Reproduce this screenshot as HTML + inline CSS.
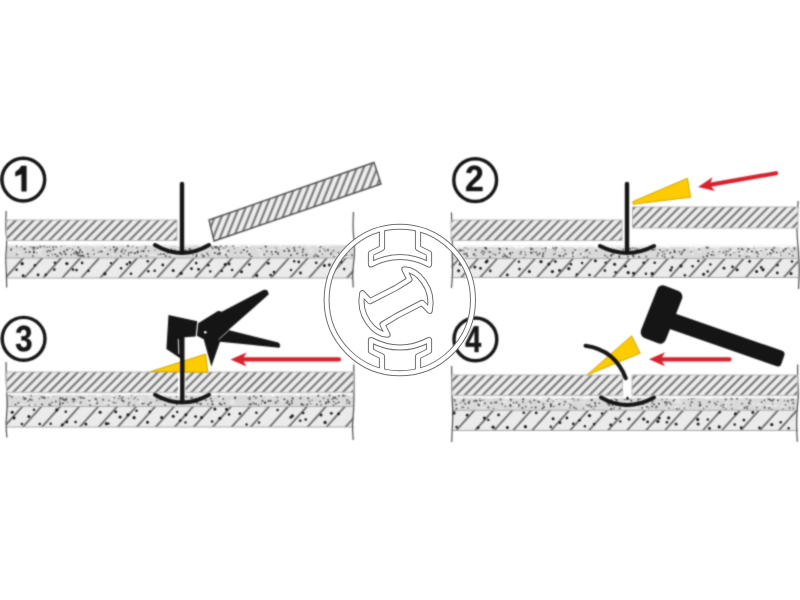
<!DOCTYPE html><html><head><meta charset="utf-8"><style>html,body{margin:0;padding:0;background:#fff;width:800px;height:600px;overflow:hidden;position:relative}svg{display:block;position:absolute;left:0;top:0}#wm{filter:blur(0.2px)}</style></head><body>
<svg id="base" width="800" height="600" viewBox="0 0 800 600">
<defs><filter id="soft" filterUnits="userSpaceOnUse" x="0" y="0" width="800" height="600" color-interpolation-filters="sRGB"><feConvolveMatrix order="5" kernelMatrix="0.00009 0.00198 0.00548 0.00198 0.00009 0.00198 0.04220 0.11707 0.04220 0.00198 0.00548 0.11707 0.32480 0.11707 0.00548 0.00198 0.04220 0.11707 0.04220 0.00198 0.00009 0.00198 0.00548 0.00198 0.00009" edgeMode="duplicate"/></filter></defs><g filter="url(#soft)">
<defs>
<pattern id="th" patternUnits="userSpaceOnUse" width="6.3" height="20" patternTransform="rotate(45)"><rect width="6.3" height="20" fill="#ededed"/><rect x="2.3" width="1.75" height="20" fill="#5e5e5e"/></pattern><pattern id="th2" patternUnits="userSpaceOnUse" width="6.3" height="20" patternTransform="rotate(22)"><rect width="6.3" height="20" fill="#eeeeee"/><rect x="2.3" width="1.75" height="20" fill="#5e5e5e"/></pattern>
<pattern id="ch" patternUnits="userSpaceOnUse" width="14.1" height="20" patternTransform="rotate(42)"><rect width="14.1" height="20" fill="#ebebeb"/><rect x="6" width="1.35" height="20" fill="#404040"/></pattern>
</defs>
<rect width="800" height="600" fill="#fff"/>
<rect x="6.5" y="244" width="347" height="14" fill="#d9d9d9"/>
<rect x="6.5" y="244" width="347" height="1.6" fill="#f6f6f6"/>
<rect x="161.7" y="251.2" width="6.6" height="1.9" fill="#e6e6e6"/>
<rect x="180.7" y="251.5" width="2.9" height="2" fill="#e6e6e6"/>
<rect x="222.5" y="253.7" width="2.5" height="1.6" fill="#e6e6e6"/>
<rect x="37.6" y="253.9" width="5.5" height="1.1" fill="#e6e6e6"/>
<rect x="343.4" y="255.6" width="5.3" height="2.2" fill="#e6e6e6"/>
<rect x="60.5" y="245.2" width="4.6" height="1.1" fill="#e6e6e6"/>
<rect x="71.7" y="247.7" width="2.2" height="1.9" fill="#e6e6e6"/>
<rect x="157.6" y="254.3" width="4.6" height="2.3" fill="#e6e6e6"/>
<rect x="177.9" y="252.3" width="4.3" height="1.6" fill="#e6e6e6"/>
<rect x="348.7" y="256" width="6.2" height="2.4" fill="#e6e6e6"/>
<rect x="114.6" y="247.5" width="3.4" height="1.1" fill="#e6e6e6"/>
<rect x="269.3" y="249.4" width="6.2" height="1.8" fill="#e6e6e6"/>
<rect x="335.1" y="254.3" width="2" height="1.4" fill="#e6e6e6"/>
<rect x="318.7" y="250.2" width="6.9" height="1.8" fill="#e6e6e6"/>
<rect x="31.6" y="251.9" width="5.9" height="1.5" fill="#e6e6e6"/>
<rect x="36.4" y="248.7" width="6.8" height="2.5" fill="#e6e6e6"/>
<rect x="47" y="247.7" width="2.5" height="1.1" fill="#e6e6e6"/>
<rect x="279.9" y="247" width="4.8" height="1.9" fill="#e6e6e6"/>
<rect x="71.9" y="253.1" width="2.7" height="2.3" fill="#e6e6e6"/>
<rect x="46.5" y="249.6" width="3.1" height="1.5" fill="#e6e6e6"/>
<rect x="339.5" y="253.8" width="3.5" height="2.8" fill="#e6e6e6"/>
<rect x="78.8" y="249.3" width="6.3" height="2.3" fill="#e6e6e6"/>
<rect x="40.9" y="255.9" width="3.1" height="1.5" fill="#e6e6e6"/>
<rect x="271.5" y="248.6" width="3.5" height="1.1" fill="#e6e6e6"/>
<rect x="37.4" y="251.4" width="3.2" height="2.2" fill="#e6e6e6"/>
<rect x="134" y="250" width="6.8" height="2" fill="#e6e6e6"/>
<rect x="203.6" y="254.5" width="2.9" height="1.3" fill="#e6e6e6"/>
<rect x="318.1" y="254" width="3.2" height="1.4" fill="#e6e6e6"/>
<rect x="260.1" y="255.3" width="3" height="2.9" fill="#e6e6e6"/>
<rect x="309.1" y="251.6" width="4.1" height="1.2" fill="#e6e6e6"/>
<rect x="19.8" y="255.6" width="3.2" height="2.4" fill="#e6e6e6"/>
<rect x="94.6" y="254.1" width="5" height="1.6" fill="#e6e6e6"/>
<rect x="66.7" y="252.9" width="2.3" height="1.5" fill="#e6e6e6"/>
<rect x="198.4" y="254.4" width="5.1" height="1.6" fill="#e6e6e6"/>
<rect x="321.2" y="247.2" width="2.1" height="1.5" fill="#e6e6e6"/>
<rect x="159.4" y="245.7" width="2.9" height="1.7" fill="#e6e6e6"/>
<rect x="202.8" y="246.4" width="3.8" height="2.8" fill="#e6e6e6"/>
<rect x="342.8" y="252.2" width="5.5" height="2.2" fill="#e6e6e6"/>
<rect x="54.6" y="245.4" width="2.1" height="2.8" fill="#e6e6e6"/>
<rect x="246.9" y="255.6" width="2.1" height="2.3" fill="#e6e6e6"/>
<rect x="171.9" y="253" width="3.6" height="3" fill="#e6e6e6"/>
<rect x="32.3" y="251" width="5.7" height="2.8" fill="#e6e6e6"/>
<rect x="259.3" y="252.7" width="6" height="2.8" fill="#e6e6e6"/>
<rect x="127.2" y="252.5" width="6.5" height="2.7" fill="#e6e6e6"/>
<rect x="149.6" y="253.7" width="6.3" height="2.1" fill="#e6e6e6"/>
<rect x="220.9" y="249.2" width="4.9" height="2.2" fill="#e6e6e6"/>
<rect x="34" y="252" width="7" height="2.8" fill="#e6e6e6"/>
<rect x="256.3" y="249.3" width="5.7" height="2.2" fill="#e6e6e6"/>
<rect x="157.6" y="254.2" width="2.4" height="2.5" fill="#e6e6e6"/>
<rect x="16.7" y="251.6" width="4.4" height="1.5" fill="#e6e6e6"/>
<rect x="246" y="250.5" width="5.1" height="2.8" fill="#e6e6e6"/>
<rect x="94.2" y="245.1" width="3.5" height="2.4" fill="#e6e6e6"/>
<rect x="76" y="246.9" width="6.5" height="2.3" fill="#e6e6e6"/>
<rect x="158.1" y="254.8" width="3.6" height="2.3" fill="#e6e6e6"/>
<rect x="74.6" y="249.7" width="6" height="2.8" fill="#e6e6e6"/>
<rect x="308.4" y="249.2" width="4.9" height="1.6" fill="#e6e6e6"/>
<rect x="53.2" y="250.5" width="6.2" height="2.7" fill="#e6e6e6"/>
<rect x="250.4" y="255.5" width="3.4" height="1.3" fill="#e6e6e6"/>
<rect x="161.1" y="248" width="3.1" height="1.8" fill="#e6e6e6"/>
<rect x="221.1" y="250.4" width="3.6" height="2.7" fill="#e6e6e6"/>
<rect x="343.3" y="250" width="2.4" height="1.1" fill="#e6e6e6"/>
<rect x="305.9" y="245.5" width="5.5" height="2.1" fill="#e6e6e6"/>
<rect x="112.5" y="253.7" width="2.1" height="1.3" fill="#e6e6e6"/>
<rect x="162.5" y="245.3" width="6.1" height="1.5" fill="#e6e6e6"/>
<rect x="54.8" y="245.5" width="5.1" height="1.9" fill="#e6e6e6"/>
<rect x="222.6" y="252.2" width="6" height="2.9" fill="#e6e6e6"/>
<rect x="241.3" y="247.2" width="4.4" height="1.4" fill="#e6e6e6"/>
<rect x="10.2" y="250.2" width="5.6" height="1.4" fill="#e6e6e6"/>
<rect x="99.9" y="248.8" width="5.5" height="2" fill="#e6e6e6"/>
<circle cx="219.5" cy="254.3" r="0.9" fill="#707070"/>
<circle cx="320.2" cy="247" r="1.1" fill="#707070"/>
<circle cx="141.4" cy="251" r="0.8" fill="#3a3a3a"/>
<circle cx="137.5" cy="252.3" r="1.1" fill="#505050"/>
<circle cx="167.5" cy="253.2" r="0.8" fill="#707070"/>
<circle cx="306.3" cy="254.8" r="1.1" fill="#3a3a3a"/>
<circle cx="81.1" cy="255.9" r="1.1" fill="#505050"/>
<circle cx="192.8" cy="254.7" r="0.8" fill="#707070"/>
<circle cx="302.7" cy="249.8" r="0.7" fill="#5a5a5a"/>
<circle cx="125.5" cy="250.6" r="0.8" fill="#3a3a3a"/>
<circle cx="82.8" cy="255.5" r="0.9" fill="#3a3a3a"/>
<circle cx="67.1" cy="249.7" r="1" fill="#454545"/>
<circle cx="169.8" cy="257" r="1.1" fill="#666"/>
<circle cx="297.3" cy="253.6" r="1.1" fill="#5a5a5a"/>
<circle cx="207.2" cy="253.6" r="1" fill="#5a5a5a"/>
<circle cx="189.2" cy="249.2" r="1" fill="#707070"/>
<circle cx="64.2" cy="251.7" r="1.1" fill="#505050"/>
<circle cx="115" cy="250.2" r="1" fill="#666"/>
<circle cx="79.3" cy="255.4" r="1.1" fill="#666"/>
<circle cx="101.7" cy="251.5" r="0.9" fill="#3a3a3a"/>
<circle cx="181.1" cy="252.7" r="0.7" fill="#3a3a3a"/>
<circle cx="185.5" cy="250.4" r="1" fill="#666"/>
<circle cx="49.6" cy="247" r="0.8" fill="#666"/>
<circle cx="165.8" cy="256.1" r="1" fill="#5a5a5a"/>
<circle cx="100.4" cy="251.2" r="0.8" fill="#5a5a5a"/>
<circle cx="318.3" cy="256.3" r="1.1" fill="#666"/>
<circle cx="116.9" cy="248.1" r="0.9" fill="#505050"/>
<circle cx="52.2" cy="254.6" r="0.7" fill="#454545"/>
<circle cx="61.2" cy="246.1" r="0.8" fill="#707070"/>
<circle cx="130.1" cy="252.8" r="0.7" fill="#707070"/>
<circle cx="208.4" cy="255.4" r="0.9" fill="#707070"/>
<circle cx="75.7" cy="251.8" r="0.9" fill="#5a5a5a"/>
<circle cx="225.9" cy="255.1" r="0.9" fill="#666"/>
<circle cx="78" cy="252.9" r="1" fill="#666"/>
<circle cx="82.1" cy="252" r="0.9" fill="#454545"/>
<circle cx="87.8" cy="254.1" r="1" fill="#454545"/>
<circle cx="116.5" cy="249.5" r="1.1" fill="#454545"/>
<circle cx="276" cy="248.1" r="0.7" fill="#454545"/>
<circle cx="53.2" cy="247" r="0.9" fill="#5a5a5a"/>
<circle cx="294.6" cy="250.6" r="1" fill="#454545"/>
<circle cx="76.7" cy="252.9" r="1" fill="#3a3a3a"/>
<circle cx="76.8" cy="253.5" r="1.1" fill="#505050"/>
<circle cx="47.3" cy="251.6" r="1" fill="#666"/>
<circle cx="352" cy="255.2" r="1" fill="#5a5a5a"/>
<circle cx="44.1" cy="246.4" r="0.9" fill="#666"/>
<circle cx="319.8" cy="251.3" r="0.8" fill="#3a3a3a"/>
<circle cx="77.9" cy="255.2" r="1.1" fill="#707070"/>
<circle cx="40.4" cy="246.7" r="1.1" fill="#5a5a5a"/>
<circle cx="34.3" cy="247.1" r="0.9" fill="#5a5a5a"/>
<circle cx="185.3" cy="250.7" r="0.9" fill="#3a3a3a"/>
<circle cx="226.2" cy="246.4" r="0.8" fill="#5a5a5a"/>
<circle cx="164.1" cy="254.1" r="0.9" fill="#454545"/>
<circle cx="216.2" cy="247" r="1" fill="#505050"/>
<circle cx="315.6" cy="254.8" r="1" fill="#707070"/>
<circle cx="331.7" cy="252.3" r="0.8" fill="#666"/>
<circle cx="346.5" cy="254.9" r="0.8" fill="#3a3a3a"/>
<circle cx="264.3" cy="254.6" r="1" fill="#5a5a5a"/>
<circle cx="53.5" cy="249.6" r="0.9" fill="#505050"/>
<circle cx="272.2" cy="254.4" r="0.9" fill="#707070"/>
<circle cx="71.3" cy="254.8" r="0.8" fill="#3a3a3a"/>
<circle cx="11.2" cy="249.9" r="1" fill="#666"/>
<circle cx="24.6" cy="249" r="1.1" fill="#505050"/>
<circle cx="124" cy="253.3" r="0.9" fill="#666"/>
<circle cx="34" cy="251.7" r="0.9" fill="#454545"/>
<circle cx="249.4" cy="254.4" r="1.1" fill="#3a3a3a"/>
<circle cx="47.1" cy="247.2" r="0.8" fill="#5a5a5a"/>
<circle cx="146" cy="246.6" r="0.8" fill="#5a5a5a"/>
<circle cx="11.2" cy="248.8" r="0.8" fill="#505050"/>
<circle cx="197.3" cy="251.6" r="1.1" fill="#666"/>
<circle cx="299.5" cy="247.1" r="0.9" fill="#707070"/>
<circle cx="33.8" cy="252.6" r="1" fill="#3a3a3a"/>
<circle cx="140.8" cy="256.3" r="0.9" fill="#454545"/>
<circle cx="302.7" cy="252" r="0.9" fill="#5a5a5a"/>
<circle cx="333.6" cy="250.6" r="0.9" fill="#666"/>
<circle cx="115.3" cy="251.8" r="0.9" fill="#505050"/>
<circle cx="200.9" cy="249.1" r="1" fill="#505050"/>
<circle cx="16.8" cy="254.5" r="0.9" fill="#707070"/>
<circle cx="61.5" cy="254.3" r="0.9" fill="#505050"/>
<circle cx="265.7" cy="246.6" r="1.1" fill="#505050"/>
<circle cx="32.9" cy="256" r="0.9" fill="#5a5a5a"/>
<circle cx="94.1" cy="254.3" r="0.7" fill="#3a3a3a"/>
<circle cx="330.9" cy="254" r="0.9" fill="#454545"/>
<circle cx="215.8" cy="247.3" r="0.9" fill="#5a5a5a"/>
<circle cx="48.2" cy="255.5" r="0.8" fill="#454545"/>
<circle cx="50.4" cy="250.9" r="1" fill="#5a5a5a"/>
<circle cx="214.9" cy="253" r="1" fill="#505050"/>
<circle cx="275.9" cy="251.8" r="1.1" fill="#505050"/>
<circle cx="260.8" cy="248.6" r="0.7" fill="#505050"/>
<circle cx="278.1" cy="252.9" r="0.8" fill="#505050"/>
<circle cx="217.9" cy="254" r="1" fill="#454545"/>
<circle cx="225.9" cy="254.3" r="0.8" fill="#454545"/>
<circle cx="180.7" cy="253.2" r="0.8" fill="#707070"/>
<circle cx="21.1" cy="246.7" r="0.8" fill="#5a5a5a"/>
<circle cx="16.8" cy="246.4" r="0.8" fill="#505050"/>
<circle cx="32.5" cy="247" r="1" fill="#666"/>
<circle cx="88.5" cy="256.8" r="0.9" fill="#505050"/>
<circle cx="80.2" cy="249.8" r="1" fill="#3a3a3a"/>
<circle cx="284.3" cy="250.9" r="1" fill="#454545"/>
<circle cx="160.8" cy="254.2" r="0.9" fill="#454545"/>
<circle cx="134.8" cy="253.2" r="1.1" fill="#505050"/>
<circle cx="107.9" cy="254.3" r="1" fill="#454545"/>
<circle cx="155" cy="250.1" r="0.7" fill="#505050"/>
<circle cx="34.6" cy="246.9" r="0.9" fill="#5a5a5a"/>
<circle cx="288.8" cy="251.1" r="1" fill="#3a3a3a"/>
<circle cx="33.7" cy="248.3" r="1" fill="#3a3a3a"/>
<circle cx="247.3" cy="251.4" r="1" fill="#505050"/>
<circle cx="105.1" cy="247.6" r="0.8" fill="#707070"/>
<circle cx="120.3" cy="256" r="0.8" fill="#5a5a5a"/>
<circle cx="203.9" cy="256.1" r="1.1" fill="#505050"/>
<circle cx="158.6" cy="254.8" r="0.8" fill="#505050"/>
<circle cx="83.8" cy="256.6" r="1" fill="#666"/>
<circle cx="93.2" cy="250" r="0.8" fill="#505050"/>
<circle cx="241.1" cy="252.4" r="1" fill="#707070"/>
<circle cx="202" cy="254.8" r="0.9" fill="#666"/>
<circle cx="201.7" cy="247.9" r="1" fill="#505050"/>
<circle cx="287.6" cy="248.4" r="0.7" fill="#454545"/>
<circle cx="203.3" cy="256.6" r="1" fill="#5a5a5a"/>
<circle cx="29.6" cy="252" r="1" fill="#3a3a3a"/>
<circle cx="122.9" cy="249" r="0.7" fill="#505050"/>
<circle cx="36.7" cy="253" r="0.8" fill="#707070"/>
<circle cx="289.1" cy="250.6" r="1" fill="#5a5a5a"/>
<circle cx="271.5" cy="251.7" r="1" fill="#5a5a5a"/>
<circle cx="128.4" cy="254.9" r="0.8" fill="#454545"/>
<circle cx="177.8" cy="251.9" r="1" fill="#707070"/>
<circle cx="220.8" cy="246.5" r="1" fill="#707070"/>
<circle cx="128" cy="246" r="0.9" fill="#3a3a3a"/>
<circle cx="314.1" cy="256.5" r="1" fill="#666"/>
<circle cx="132.4" cy="246.1" r="0.7" fill="#5a5a5a"/>
<circle cx="323.4" cy="248.7" r="0.8" fill="#707070"/>
<circle cx="137.1" cy="247.8" r="0.8" fill="#5a5a5a"/>
<circle cx="190" cy="249" r="1.1" fill="#5a5a5a"/>
<circle cx="113.9" cy="247.3" r="1" fill="#454545"/>
<circle cx="322.2" cy="254.3" r="0.7" fill="#5a5a5a"/>
<circle cx="321.2" cy="246.4" r="0.7" fill="#454545"/>
<circle cx="131.5" cy="252.5" r="0.9" fill="#5a5a5a"/>
<circle cx="212.7" cy="248.5" r="0.8" fill="#505050"/>
<circle cx="146.4" cy="256" r="1.1" fill="#707070"/>
<circle cx="196.6" cy="255" r="0.9" fill="#505050"/>
<circle cx="174.7" cy="250.4" r="1.1" fill="#707070"/>
<circle cx="196.3" cy="256.5" r="0.9" fill="#454545"/>
<circle cx="145.3" cy="248.4" r="0.8" fill="#5a5a5a"/>
<circle cx="344.2" cy="254.7" r="1" fill="#3a3a3a"/>
<circle cx="234.4" cy="248.6" r="0.7" fill="#5a5a5a"/>
<circle cx="319.8" cy="251" r="0.8" fill="#5a5a5a"/>
<circle cx="216.6" cy="247.7" r="0.8" fill="#505050"/>
<circle cx="57.4" cy="256" r="1" fill="#454545"/>
<circle cx="227.3" cy="256.9" r="0.8" fill="#666"/>
<circle cx="25.8" cy="252.3" r="0.8" fill="#454545"/>
<circle cx="290.9" cy="255.3" r="1" fill="#3a3a3a"/>
<circle cx="128.8" cy="252.8" r="0.9" fill="#5a5a5a"/>
<circle cx="246.8" cy="246.9" r="1" fill="#666"/>
<circle cx="303.3" cy="249.3" r="1" fill="#5a5a5a"/>
<circle cx="74.1" cy="253.5" r="1" fill="#5a5a5a"/>
<circle cx="79.4" cy="252" r="0.9" fill="#454545"/>
<circle cx="334.1" cy="256.6" r="0.8" fill="#5a5a5a"/>
<circle cx="33.7" cy="249.4" r="0.9" fill="#707070"/>
<circle cx="30.6" cy="246.8" r="0.8" fill="#707070"/>
<circle cx="143.5" cy="251.1" r="1.1" fill="#3a3a3a"/>
<circle cx="233.1" cy="246.1" r="0.9" fill="#707070"/>
<circle cx="171.5" cy="249.2" r="0.7" fill="#3a3a3a"/>
<circle cx="302.8" cy="255.3" r="1" fill="#666"/>
<circle cx="60" cy="252.9" r="1.1" fill="#707070"/>
<circle cx="110.4" cy="249.7" r="0.9" fill="#707070"/>
<circle cx="37.5" cy="248.1" r="0.9" fill="#3a3a3a"/>
<circle cx="121.1" cy="256.4" r="0.9" fill="#707070"/>
<circle cx="228.4" cy="250.9" r="0.9" fill="#3a3a3a"/>
<circle cx="56.1" cy="247" r="1" fill="#707070"/>
<circle cx="69.3" cy="248.1" r="0.7" fill="#5a5a5a"/>
<circle cx="212" cy="247" r="0.8" fill="#454545"/>
<circle cx="348.2" cy="250.8" r="1" fill="#505050"/>
<circle cx="325.1" cy="250.7" r="0.9" fill="#707070"/>
<circle cx="78.4" cy="247.6" r="1" fill="#5a5a5a"/>
<circle cx="121.8" cy="250.5" r="0.7" fill="#5a5a5a"/>
<circle cx="219" cy="249.5" r="1" fill="#454545"/>
<circle cx="235.3" cy="252.7" r="0.7" fill="#505050"/>
<circle cx="72.6" cy="249.4" r="0.9" fill="#666"/>
<circle cx="137.8" cy="251.6" r="1" fill="#3a3a3a"/>
<circle cx="218.4" cy="247.7" r="1" fill="#505050"/>
<circle cx="196.6" cy="249.9" r="0.9" fill="#454545"/>
<circle cx="205.6" cy="248.2" r="1.1" fill="#707070"/>
<circle cx="251.4" cy="256.3" r="0.9" fill="#3a3a3a"/>
<circle cx="223.9" cy="248.2" r="0.7" fill="#454545"/>
<circle cx="172.4" cy="250.6" r="0.8" fill="#3a3a3a"/>
<circle cx="328" cy="250" r="0.9" fill="#3a3a3a"/>
<circle cx="163.5" cy="254" r="0.8" fill="#666"/>
<circle cx="195" cy="252.2" r="0.9" fill="#505050"/>
<circle cx="65.6" cy="254.2" r="1.1" fill="#505050"/>
<circle cx="215" cy="247.3" r="1" fill="#505050"/>
<circle cx="243.8" cy="250" r="1" fill="#505050"/>
<circle cx="294.1" cy="248" r="0.9" fill="#3a3a3a"/>
<circle cx="164.3" cy="250.4" r="1" fill="#707070"/>
<circle cx="55.2" cy="254.3" r="1" fill="#5a5a5a"/>
<circle cx="219.8" cy="253" r="1" fill="#454545"/>
<circle cx="76.3" cy="251.1" r="0.8" fill="#5a5a5a"/>
<circle cx="48.3" cy="250.5" r="0.8" fill="#454545"/>
<circle cx="98.5" cy="252.2" r="0.8" fill="#707070"/>
<circle cx="278" cy="253.9" r="1" fill="#5a5a5a"/>
<circle cx="338.5" cy="252.6" r="0.9" fill="#5a5a5a"/>
<circle cx="316.9" cy="256" r="0.9" fill="#5a5a5a"/>
<circle cx="266.8" cy="251.3" r="1.1" fill="#707070"/>
<circle cx="148.6" cy="250.8" r="0.9" fill="#666"/>
<circle cx="121.5" cy="251.7" r="0.9" fill="#3a3a3a"/>
<rect x="118.1" y="243.6" width="4" height="1.2" fill="#fafafa"/>
<rect x="318" y="245" width="3.6" height="1.2" fill="#fafafa"/>
<rect x="266.9" y="244.1" width="3.6" height="1.2" fill="#fafafa"/>
<rect x="31.6" y="243.7" width="3.1" height="1.2" fill="#fafafa"/>
<rect x="180.9" y="244.3" width="1.7" height="1.2" fill="#fafafa"/>
<rect x="247.2" y="244.6" width="2.3" height="1.2" fill="#fafafa"/>
<rect x="113.2" y="244.3" width="2.3" height="1.2" fill="#fafafa"/>
<rect x="31.1" y="245.3" width="4.9" height="1.2" fill="#fafafa"/>
<rect x="237.2" y="245.2" width="3" height="1.2" fill="#fafafa"/>
<rect x="285.3" y="243.9" width="4.1" height="1.2" fill="#fafafa"/>
<rect x="203" y="245.3" width="1.8" height="1.2" fill="#fafafa"/>
<rect x="280.9" y="243.7" width="3.4" height="1.2" fill="#fafafa"/>
<rect x="335.6" y="243.5" width="2.4" height="1.2" fill="#fafafa"/>
<rect x="110.7" y="244.1" width="1.7" height="1.2" fill="#fafafa"/>
<rect x="316.3" y="245.1" width="2.9" height="1.2" fill="#fafafa"/>
<rect x="130.5" y="244.7" width="1.7" height="1.2" fill="#fafafa"/>
<rect x="18.2" y="245.3" width="2.6" height="1.2" fill="#fafafa"/>
<rect x="179.5" y="245.4" width="4.9" height="1.2" fill="#fafafa"/>
<rect x="170.6" y="243.9" width="2.5" height="1.2" fill="#fafafa"/>
<rect x="325.8" y="245.3" width="2.2" height="1.2" fill="#fafafa"/>
<rect x="296.6" y="244.2" width="3.2" height="1.2" fill="#fafafa"/>
<rect x="66.8" y="245.3" width="5" height="1.2" fill="#fafafa"/>
<rect x="77.2" y="244.8" width="2.2" height="1.2" fill="#fafafa"/>
<rect x="311.2" y="243.6" width="1.9" height="1.2" fill="#fafafa"/>
<rect x="257.9" y="244.1" width="4.7" height="1.2" fill="#fafafa"/>
<rect x="307.5" y="244.9" width="2" height="1.2" fill="#fafafa"/>
<rect x="247.6" y="245.4" width="3.1" height="1.2" fill="#fafafa"/>
<rect x="34.8" y="243.9" width="2.6" height="1.2" fill="#fafafa"/>
<rect x="252.6" y="243.9" width="2.1" height="1.2" fill="#fafafa"/>
<rect x="88.7" y="244.8" width="4.3" height="1.2" fill="#fafafa"/>
<rect x="136" y="244.8" width="4.6" height="1.2" fill="#fafafa"/>
<rect x="211" y="244" width="2.6" height="1.2" fill="#fafafa"/>
<rect x="327.2" y="244.8" width="2.5" height="1.2" fill="#fafafa"/>
<rect x="228.3" y="243.7" width="4.9" height="1.2" fill="#fafafa"/>
<rect x="159.4" y="244.6" width="3.4" height="1.2" fill="#fafafa"/>
<rect x="23.1" y="244.7" width="2.5" height="1.2" fill="#fafafa"/>
<rect x="94.1" y="245.1" width="1.8" height="1.2" fill="#fafafa"/>
<rect x="105.9" y="245" width="2.4" height="1.2" fill="#fafafa"/>
<rect x="103.8" y="244.6" width="2.2" height="1.2" fill="#fafafa"/>
<rect x="317" y="245.5" width="1.6" height="1.2" fill="#fafafa"/>
<rect x="166.8" y="245" width="2.8" height="1.2" fill="#fafafa"/>
<rect x="328.1" y="244.5" width="2.1" height="1.2" fill="#fafafa"/>
<rect x="199.3" y="244.8" width="2.8" height="1.2" fill="#fafafa"/>
<rect x="234.6" y="245.1" width="3.3" height="1.2" fill="#fafafa"/>
<rect x="181.9" y="245.2" width="3.9" height="1.2" fill="#fafafa"/>
<rect x="187.1" y="245.4" width="2.1" height="1.2" fill="#fafafa"/>
<rect x="276.5" y="243.8" width="3.6" height="1.2" fill="#fafafa"/>
<rect x="88.7" y="244.4" width="4.2" height="1.2" fill="#fafafa"/>
<rect x="278.9" y="245.1" width="2.3" height="1.2" fill="#fafafa"/>
<rect x="176.2" y="243.9" width="3.5" height="1.2" fill="#fafafa"/>
<rect x="179.6" y="243.6" width="3.6" height="1.2" fill="#fafafa"/>
<rect x="254.1" y="244.6" width="4.6" height="1.2" fill="#fafafa"/>
<rect x="69.6" y="243.8" width="1.6" height="1.2" fill="#fafafa"/>
<rect x="178.7" y="244.4" width="3" height="1.2" fill="#fafafa"/>
<rect x="98.2" y="245.1" width="1.8" height="1.2" fill="#fafafa"/>
<rect x="320.5" y="244.6" width="3.4" height="1.2" fill="#fafafa"/>
<rect x="280.6" y="244" width="2" height="1.2" fill="#fafafa"/>
<rect x="114.8" y="243.6" width="2.6" height="1.2" fill="#fafafa"/>
<rect x="221.8" y="244.6" width="2.4" height="1.2" fill="#fafafa"/>
<rect x="210.6" y="243.7" width="4.4" height="1.2" fill="#fafafa"/>
<rect x="66.7" y="244" width="2.1" height="1.2" fill="#fafafa"/>
<rect x="245.8" y="245.2" width="4.3" height="1.2" fill="#fafafa"/>
<rect x="28.6" y="244.3" width="2.8" height="1.2" fill="#fafafa"/>
<rect x="82.1" y="245.4" width="1.6" height="1.2" fill="#fafafa"/>
<rect x="176.4" y="245" width="5" height="1.2" fill="#fafafa"/>
<rect x="57.4" y="244.4" width="4.1" height="1.2" fill="#fafafa"/>
<rect x="21" y="244" width="4.6" height="1.2" fill="#fafafa"/>
<rect x="56.3" y="244.3" width="2.5" height="1.2" fill="#fafafa"/>
<rect x="153.9" y="243.7" width="1.6" height="1.2" fill="#fafafa"/>
<rect x="6.5" y="258" width="347" height="20" fill="url(#ch)"/>
<circle cx="16.6" cy="269.8" r="1.3" fill="#1a1a1a"/>
<circle cx="22.2" cy="263.7" r="1.6" fill="#1a1a1a"/>
<circle cx="23.2" cy="275.8" r="1.5" fill="#1a1a1a"/>
<circle cx="34.9" cy="265.2" r="1.2" fill="#1a1a1a"/>
<circle cx="38.1" cy="274.9" r="1.4" fill="#1a1a1a"/>
<circle cx="45.8" cy="274.7" r="1.3" fill="#1a1a1a"/>
<circle cx="54.9" cy="262.8" r="1.2" fill="#1a1a1a"/>
<circle cx="54.3" cy="269.6" r="1.3" fill="#1a1a1a"/>
<circle cx="66.9" cy="263.6" r="1.6" fill="#1a1a1a"/>
<circle cx="73" cy="269.6" r="1.3" fill="#1a1a1a"/>
<circle cx="82.1" cy="262.9" r="1.3" fill="#1a1a1a"/>
<circle cx="76.5" cy="270.1" r="1.3" fill="#1a1a1a"/>
<circle cx="88.5" cy="270.9" r="1.2" fill="#1a1a1a"/>
<circle cx="104.9" cy="273.8" r="1.6" fill="#1a1a1a"/>
<circle cx="111" cy="263.1" r="1.2" fill="#1a1a1a"/>
<circle cx="127" cy="264.2" r="1.2" fill="#1a1a1a"/>
<circle cx="121.1" cy="268.3" r="1.2" fill="#1a1a1a"/>
<circle cx="129.8" cy="262.5" r="1.4" fill="#1a1a1a"/>
<circle cx="131" cy="273.7" r="1.3" fill="#1a1a1a"/>
<circle cx="147.8" cy="261.2" r="1.3" fill="#1a1a1a"/>
<circle cx="148.3" cy="271.2" r="1.3" fill="#1a1a1a"/>
<circle cx="154.7" cy="270.8" r="1.3" fill="#1a1a1a"/>
<circle cx="162.8" cy="265" r="1.4" fill="#1a1a1a"/>
<circle cx="173.2" cy="270.4" r="1.5" fill="#1a1a1a"/>
<circle cx="181.1" cy="273.3" r="1.6" fill="#1a1a1a"/>
<circle cx="191.5" cy="268.7" r="1.4" fill="#1a1a1a"/>
<circle cx="196.2" cy="263.1" r="1.3" fill="#1a1a1a"/>
<circle cx="198.6" cy="269.3" r="1.4" fill="#1a1a1a"/>
<circle cx="208.3" cy="265.3" r="1.3" fill="#1a1a1a"/>
<circle cx="210.3" cy="271.4" r="1.2" fill="#1a1a1a"/>
<circle cx="225.2" cy="264.4" r="1.5" fill="#1a1a1a"/>
<circle cx="221.8" cy="270.9" r="1.2" fill="#1a1a1a"/>
<circle cx="229.1" cy="264" r="1.4" fill="#1a1a1a"/>
<circle cx="232.1" cy="270" r="1.2" fill="#1a1a1a"/>
<circle cx="249.3" cy="264.5" r="1.3" fill="#1a1a1a"/>
<circle cx="241.5" cy="271.8" r="1.5" fill="#1a1a1a"/>
<circle cx="256.8" cy="275.5" r="1.5" fill="#1a1a1a"/>
<circle cx="268.3" cy="263.3" r="1.4" fill="#1a1a1a"/>
<circle cx="270.6" cy="275" r="1.3" fill="#1a1a1a"/>
<circle cx="274" cy="272.1" r="1.3" fill="#1a1a1a"/>
<circle cx="294.2" cy="261.2" r="1.2" fill="#1a1a1a"/>
<circle cx="291" cy="269.9" r="1.2" fill="#1a1a1a"/>
<circle cx="298.8" cy="261.9" r="1.4" fill="#1a1a1a"/>
<circle cx="300.5" cy="273" r="1.4" fill="#1a1a1a"/>
<circle cx="316.2" cy="262.7" r="1.3" fill="#1a1a1a"/>
<circle cx="324.4" cy="265.6" r="1.5" fill="#1a1a1a"/>
<circle cx="329.3" cy="265" r="1.4" fill="#1a1a1a"/>
<circle cx="331.6" cy="270.3" r="1.5" fill="#1a1a1a"/>
<circle cx="341.1" cy="262" r="1.3" fill="#1a1a1a"/>
<circle cx="344.2" cy="269" r="1.2" fill="#1a1a1a"/>
<line x1="6.5" y1="278" x2="353.5" y2="278" stroke="#a8a8a8" stroke-width="1"/>
<line x1="6.5" y1="258" x2="353.5" y2="258" stroke="#a0a0a0" stroke-width="0.8"/>
<path d="M6.2,211 Q5.5,226.3 6.2,233.9 Q7,241.6 6.3,249.2 Q5.5,256.9 5.9,264.5 Q6.4,272.2 6.5,279.9 L6.7,287.5" fill="none" stroke="#484848" stroke-width="1.15" stroke-linejoin="round"/>
<path d="M353.5,212 Q352.6,227.1 353.5,234.6 Q354.5,242.2 354.5,249.8 Q354.5,257.3 353.4,264.9 Q352.3,272.4 352.8,279.9 L353.3,287.5" fill="none" stroke="#484848" stroke-width="1.15" stroke-linejoin="round"/>
<rect x="6.5" y="220" width="170.5" height="20.5" fill="url(#th)" stroke="#b4b4b4" stroke-width="0.9"/>
<polygon points="209,220 374,162.5 381,184 214,241" fill="url(#th2)" stroke="#505050" stroke-width="1.4"/>
<path d="M155,245 Q182,261 209,245" fill="none" stroke="#151515" stroke-width="4" stroke-linecap="round"/>
<line x1="182" y1="184" x2="182" y2="252" stroke="#151515" stroke-width="4.4" stroke-linecap="round"/>
<circle cx="23.3" cy="179.6" r="21.4" fill="#fff" stroke="#151515" stroke-width="3.4"/><path d="M21.4,165.8 L26.6,165.8 L26.6,191.6 L21.4,191.6 L21.4,174.2 L15.3,176.6 L15.2,172 Q19.3,170 21.4,165.8 Z" fill="#151515"/>
<rect x="451.5" y="245.5" width="346.7" height="13" fill="#d9d9d9"/>
<rect x="451.5" y="245.5" width="346.7" height="1.6" fill="#f6f6f6"/>
<rect x="779.9" y="247.9" width="2.1" height="3" fill="#e6e6e6"/>
<rect x="514.6" y="247.7" width="5.3" height="1.7" fill="#e6e6e6"/>
<rect x="756.3" y="248.8" width="6.8" height="1.6" fill="#e6e6e6"/>
<rect x="657.5" y="255.8" width="5.4" height="2.8" fill="#e6e6e6"/>
<rect x="694.2" y="247" width="6.4" height="2.2" fill="#e6e6e6"/>
<rect x="558" y="248.4" width="6.2" height="2.2" fill="#e6e6e6"/>
<rect x="772.9" y="254.2" width="6.8" height="2.1" fill="#e6e6e6"/>
<rect x="690.8" y="252.6" width="3.3" height="2.9" fill="#e6e6e6"/>
<rect x="558.6" y="254.3" width="6.8" height="2.3" fill="#e6e6e6"/>
<rect x="500.2" y="254.8" width="5.3" height="1.4" fill="#e6e6e6"/>
<rect x="468.3" y="251.8" width="2.2" height="2.9" fill="#e6e6e6"/>
<rect x="625" y="251.7" width="4" height="2.3" fill="#e6e6e6"/>
<rect x="765.6" y="249.6" width="3.9" height="2.2" fill="#e6e6e6"/>
<rect x="553.4" y="252.5" width="4.7" height="1.9" fill="#e6e6e6"/>
<rect x="682.2" y="251.8" width="2.4" height="3" fill="#e6e6e6"/>
<rect x="573.4" y="250.8" width="4" height="2.9" fill="#e6e6e6"/>
<rect x="777.8" y="251.6" width="4" height="1.2" fill="#e6e6e6"/>
<rect x="758.4" y="248.2" width="4.7" height="1.7" fill="#e6e6e6"/>
<rect x="564" y="250.1" width="3" height="1.1" fill="#e6e6e6"/>
<rect x="635" y="254.5" width="5.2" height="1.4" fill="#e6e6e6"/>
<rect x="689.2" y="247" width="4.1" height="2.7" fill="#e6e6e6"/>
<rect x="767.1" y="251.1" width="6.2" height="2" fill="#e6e6e6"/>
<rect x="631.1" y="252.3" width="7" height="2.5" fill="#e6e6e6"/>
<rect x="613.6" y="253.8" width="5.2" height="1.7" fill="#e6e6e6"/>
<rect x="720.2" y="254.7" width="5" height="2.9" fill="#e6e6e6"/>
<rect x="457.7" y="251.5" width="5.2" height="1.7" fill="#e6e6e6"/>
<rect x="510.2" y="253.4" width="4.2" height="1.5" fill="#e6e6e6"/>
<rect x="465.8" y="256.2" width="3.8" height="1.2" fill="#e6e6e6"/>
<rect x="525.6" y="249" width="6.3" height="1.4" fill="#e6e6e6"/>
<rect x="546.2" y="247.5" width="4.3" height="1.4" fill="#e6e6e6"/>
<rect x="569.4" y="253.8" width="6.6" height="2.7" fill="#e6e6e6"/>
<rect x="464.6" y="250.3" width="6.2" height="1.1" fill="#e6e6e6"/>
<rect x="521.1" y="251.4" width="3.9" height="2.5" fill="#e6e6e6"/>
<rect x="697.6" y="251.1" width="3.2" height="1.5" fill="#e6e6e6"/>
<rect x="542.8" y="247.2" width="5.3" height="1.3" fill="#e6e6e6"/>
<rect x="756.3" y="253" width="2.3" height="2" fill="#e6e6e6"/>
<rect x="658.4" y="246.9" width="4.4" height="1.1" fill="#e6e6e6"/>
<rect x="714.1" y="246.5" width="5.2" height="3" fill="#e6e6e6"/>
<rect x="741.6" y="248.8" width="4.7" height="1.3" fill="#e6e6e6"/>
<rect x="568.8" y="255.1" width="6.1" height="1" fill="#e6e6e6"/>
<rect x="581.7" y="252.9" width="2.9" height="2.6" fill="#e6e6e6"/>
<rect x="757.6" y="252" width="3.8" height="2.7" fill="#e6e6e6"/>
<rect x="627.2" y="248.4" width="3.4" height="1.3" fill="#e6e6e6"/>
<rect x="738.9" y="251.6" width="5.5" height="2.6" fill="#e6e6e6"/>
<rect x="785.2" y="248.4" width="4" height="2.7" fill="#e6e6e6"/>
<rect x="712.5" y="250.4" width="5.3" height="1.4" fill="#e6e6e6"/>
<rect x="506.9" y="247" width="3.9" height="1.5" fill="#e6e6e6"/>
<rect x="628.9" y="256.2" width="2.8" height="2.1" fill="#e6e6e6"/>
<rect x="747.8" y="252.5" width="4.6" height="2.5" fill="#e6e6e6"/>
<rect x="459" y="256" width="5.4" height="2.6" fill="#e6e6e6"/>
<rect x="734.3" y="247.5" width="2.3" height="1.4" fill="#e6e6e6"/>
<rect x="624.5" y="255.9" width="6.5" height="1.8" fill="#e6e6e6"/>
<rect x="664.8" y="253.9" width="3.7" height="2.9" fill="#e6e6e6"/>
<rect x="774.3" y="253.8" width="6.5" height="2.6" fill="#e6e6e6"/>
<rect x="675" y="249.7" width="3.4" height="1.5" fill="#e6e6e6"/>
<rect x="471.2" y="255.8" width="3.5" height="1" fill="#e6e6e6"/>
<rect x="559.8" y="247.5" width="4.2" height="1.7" fill="#e6e6e6"/>
<rect x="511.6" y="251.3" width="4.1" height="1.7" fill="#e6e6e6"/>
<rect x="730.2" y="249.6" width="4.7" height="2.8" fill="#e6e6e6"/>
<rect x="780.2" y="250.2" width="2.2" height="2.9" fill="#e6e6e6"/>
<rect x="627.7" y="248.7" width="2.6" height="1.5" fill="#e6e6e6"/>
<rect x="557.9" y="247.9" width="2.2" height="3" fill="#e6e6e6"/>
<rect x="732.6" y="247.6" width="4.4" height="2.6" fill="#e6e6e6"/>
<rect x="624.4" y="247.2" width="3.7" height="1.8" fill="#e6e6e6"/>
<rect x="764.9" y="252.3" width="4.3" height="2.3" fill="#e6e6e6"/>
<rect x="468.2" y="253.4" width="6" height="2.3" fill="#e6e6e6"/>
<rect x="575.2" y="249.4" width="2.1" height="1.2" fill="#e6e6e6"/>
<rect x="504.5" y="251" width="5.9" height="1.4" fill="#e6e6e6"/>
<rect x="613.4" y="252.9" width="5.1" height="1" fill="#e6e6e6"/>
<circle cx="769.8" cy="253.4" r="0.8" fill="#454545"/>
<circle cx="654.6" cy="249.5" r="1" fill="#707070"/>
<circle cx="589.7" cy="253.1" r="0.8" fill="#5a5a5a"/>
<circle cx="682.6" cy="252" r="1" fill="#5a5a5a"/>
<circle cx="542.8" cy="256.2" r="1" fill="#454545"/>
<circle cx="674.3" cy="250.2" r="0.8" fill="#3a3a3a"/>
<circle cx="660" cy="249.9" r="0.9" fill="#505050"/>
<circle cx="611.2" cy="255.6" r="1.1" fill="#3a3a3a"/>
<circle cx="652.6" cy="249.8" r="0.9" fill="#454545"/>
<circle cx="785.3" cy="248.9" r="0.9" fill="#666"/>
<circle cx="558.7" cy="255.3" r="0.8" fill="#707070"/>
<circle cx="627.9" cy="256.7" r="0.9" fill="#3a3a3a"/>
<circle cx="580.9" cy="254" r="0.8" fill="#3a3a3a"/>
<circle cx="509.6" cy="257.5" r="0.8" fill="#5a5a5a"/>
<circle cx="776.8" cy="252.6" r="0.8" fill="#3a3a3a"/>
<circle cx="542.6" cy="248.7" r="0.8" fill="#707070"/>
<circle cx="481.5" cy="252.5" r="0.8" fill="#5a5a5a"/>
<circle cx="637.9" cy="250.8" r="1" fill="#505050"/>
<circle cx="531.2" cy="249.3" r="1" fill="#3a3a3a"/>
<circle cx="664.2" cy="251.1" r="0.7" fill="#666"/>
<circle cx="639" cy="256.7" r="1" fill="#505050"/>
<circle cx="780.8" cy="255.2" r="0.7" fill="#5a5a5a"/>
<circle cx="543.4" cy="253.2" r="0.9" fill="#505050"/>
<circle cx="503" cy="256.6" r="1.1" fill="#666"/>
<circle cx="485.8" cy="247.8" r="0.8" fill="#3a3a3a"/>
<circle cx="507" cy="257" r="1.1" fill="#5a5a5a"/>
<circle cx="679.4" cy="251.7" r="0.8" fill="#3a3a3a"/>
<circle cx="747.2" cy="251.4" r="0.8" fill="#666"/>
<circle cx="646.2" cy="256.5" r="1.1" fill="#707070"/>
<circle cx="490.3" cy="252.1" r="0.8" fill="#5a5a5a"/>
<circle cx="739.3" cy="252" r="0.8" fill="#3a3a3a"/>
<circle cx="794.6" cy="249.4" r="0.9" fill="#707070"/>
<circle cx="726.2" cy="253.8" r="0.8" fill="#707070"/>
<circle cx="575.8" cy="250.2" r="0.8" fill="#666"/>
<circle cx="614.1" cy="249.7" r="0.8" fill="#5a5a5a"/>
<circle cx="504.9" cy="255.6" r="1" fill="#505050"/>
<circle cx="706.7" cy="247.6" r="1.1" fill="#5a5a5a"/>
<circle cx="633.6" cy="256.3" r="0.9" fill="#3a3a3a"/>
<circle cx="525.5" cy="254.8" r="0.7" fill="#3a3a3a"/>
<circle cx="738.4" cy="248.7" r="0.8" fill="#3a3a3a"/>
<circle cx="672.5" cy="257.1" r="1.1" fill="#454545"/>
<circle cx="504.2" cy="254.1" r="0.8" fill="#666"/>
<circle cx="618.4" cy="251.8" r="1" fill="#505050"/>
<circle cx="499.4" cy="248.8" r="1" fill="#454545"/>
<circle cx="767.4" cy="254.3" r="0.8" fill="#505050"/>
<circle cx="664.6" cy="254.2" r="1" fill="#666"/>
<circle cx="766.2" cy="249.5" r="0.8" fill="#454545"/>
<circle cx="562.6" cy="248.8" r="0.7" fill="#707070"/>
<circle cx="530.9" cy="248" r="0.9" fill="#666"/>
<circle cx="553.6" cy="248.7" r="0.7" fill="#3a3a3a"/>
<circle cx="708.1" cy="247.7" r="1" fill="#666"/>
<circle cx="620.3" cy="252.1" r="0.9" fill="#454545"/>
<circle cx="713.7" cy="255.2" r="0.8" fill="#505050"/>
<circle cx="467.9" cy="249.1" r="0.7" fill="#666"/>
<circle cx="605" cy="255.5" r="0.9" fill="#505050"/>
<circle cx="532.8" cy="248.8" r="0.9" fill="#707070"/>
<circle cx="788.2" cy="248" r="0.7" fill="#707070"/>
<circle cx="460.9" cy="250.6" r="1" fill="#5a5a5a"/>
<circle cx="585.7" cy="251" r="0.9" fill="#666"/>
<circle cx="486.3" cy="248.6" r="0.9" fill="#505050"/>
<circle cx="587.1" cy="250" r="1" fill="#3a3a3a"/>
<circle cx="794.4" cy="248.1" r="1" fill="#5a5a5a"/>
<circle cx="564.8" cy="250.2" r="0.8" fill="#3a3a3a"/>
<circle cx="783.4" cy="250.9" r="1.1" fill="#505050"/>
<circle cx="545.6" cy="248.2" r="1" fill="#505050"/>
<circle cx="726.2" cy="251.6" r="1" fill="#707070"/>
<circle cx="486.2" cy="249.1" r="0.8" fill="#454545"/>
<circle cx="533.5" cy="251.8" r="0.7" fill="#505050"/>
<circle cx="613.5" cy="254" r="0.9" fill="#5a5a5a"/>
<circle cx="482.6" cy="251" r="0.9" fill="#5a5a5a"/>
<circle cx="555.3" cy="250.3" r="0.8" fill="#666"/>
<circle cx="662.5" cy="251.9" r="0.8" fill="#5a5a5a"/>
<circle cx="658.1" cy="253.4" r="0.9" fill="#5a5a5a"/>
<circle cx="536.1" cy="252.3" r="0.9" fill="#3a3a3a"/>
<circle cx="703.4" cy="257.1" r="1" fill="#666"/>
<circle cx="490" cy="257.1" r="1" fill="#505050"/>
<circle cx="711.5" cy="254.7" r="1" fill="#3a3a3a"/>
<circle cx="619.3" cy="257" r="1" fill="#3a3a3a"/>
<circle cx="751.9" cy="251.5" r="0.9" fill="#3a3a3a"/>
<circle cx="584.1" cy="257.3" r="0.8" fill="#3a3a3a"/>
<circle cx="632.6" cy="248" r="0.7" fill="#3a3a3a"/>
<circle cx="713" cy="251.7" r="0.9" fill="#707070"/>
<circle cx="630" cy="248.8" r="1" fill="#454545"/>
<circle cx="628.3" cy="253.3" r="0.7" fill="#666"/>
<circle cx="559.6" cy="256.1" r="0.8" fill="#3a3a3a"/>
<circle cx="707.1" cy="256.1" r="1.1" fill="#454545"/>
<circle cx="637.2" cy="249.2" r="0.9" fill="#707070"/>
<circle cx="531.7" cy="253.3" r="0.8" fill="#454545"/>
<circle cx="545.4" cy="250.9" r="0.7" fill="#5a5a5a"/>
<circle cx="574.7" cy="249.8" r="0.8" fill="#5a5a5a"/>
<circle cx="684.4" cy="250" r="1.1" fill="#3a3a3a"/>
<circle cx="553.9" cy="254.2" r="1" fill="#707070"/>
<circle cx="770.7" cy="253.4" r="1.1" fill="#5a5a5a"/>
<circle cx="572.7" cy="253.9" r="0.8" fill="#666"/>
<circle cx="484.5" cy="252.3" r="1" fill="#666"/>
<circle cx="606.2" cy="249.6" r="0.7" fill="#666"/>
<circle cx="754.6" cy="247.7" r="0.9" fill="#666"/>
<circle cx="708.1" cy="253.4" r="0.8" fill="#3a3a3a"/>
<circle cx="587.2" cy="257" r="0.8" fill="#3a3a3a"/>
<circle cx="792.7" cy="255.7" r="0.9" fill="#5a5a5a"/>
<circle cx="555.5" cy="253.2" r="0.7" fill="#707070"/>
<circle cx="506.3" cy="256.5" r="1" fill="#5a5a5a"/>
<circle cx="556.1" cy="247.9" r="1.1" fill="#666"/>
<circle cx="723.5" cy="252.5" r="1" fill="#707070"/>
<circle cx="730.4" cy="255.1" r="1" fill="#505050"/>
<circle cx="699.1" cy="249.3" r="1" fill="#707070"/>
<circle cx="520.4" cy="253.5" r="1" fill="#666"/>
<circle cx="524.7" cy="252.3" r="0.7" fill="#5a5a5a"/>
<circle cx="489.2" cy="251.8" r="0.9" fill="#5a5a5a"/>
<circle cx="761.1" cy="250.7" r="0.7" fill="#5a5a5a"/>
<circle cx="773.3" cy="251.5" r="0.9" fill="#454545"/>
<circle cx="670.3" cy="252.8" r="1" fill="#454545"/>
<circle cx="785.8" cy="249.2" r="0.9" fill="#3a3a3a"/>
<circle cx="691.2" cy="251.8" r="0.8" fill="#5a5a5a"/>
<circle cx="619.1" cy="255.5" r="0.7" fill="#666"/>
<circle cx="539.7" cy="253.4" r="0.9" fill="#454545"/>
<circle cx="483.2" cy="254.4" r="0.8" fill="#5a5a5a"/>
<circle cx="741.7" cy="249" r="1" fill="#5a5a5a"/>
<circle cx="739.5" cy="255.9" r="1" fill="#5a5a5a"/>
<circle cx="473.6" cy="254.5" r="1" fill="#454545"/>
<circle cx="757" cy="252.3" r="1.1" fill="#505050"/>
<circle cx="466.4" cy="253.8" r="1" fill="#3a3a3a"/>
<circle cx="530.9" cy="252.5" r="0.9" fill="#3a3a3a"/>
<circle cx="635.2" cy="248.4" r="0.8" fill="#5a5a5a"/>
<circle cx="572.9" cy="252.3" r="0.9" fill="#505050"/>
<circle cx="467.3" cy="256.1" r="1" fill="#454545"/>
<circle cx="742.9" cy="249.3" r="0.9" fill="#666"/>
<circle cx="635.4" cy="253.8" r="1" fill="#707070"/>
<circle cx="674.7" cy="251.9" r="1.1" fill="#3a3a3a"/>
<circle cx="495.4" cy="254.7" r="0.9" fill="#505050"/>
<circle cx="623.3" cy="249.4" r="1" fill="#666"/>
<circle cx="780.6" cy="252.6" r="0.7" fill="#454545"/>
<circle cx="510.1" cy="253.2" r="1.1" fill="#505050"/>
<circle cx="774.4" cy="247.7" r="0.7" fill="#707070"/>
<circle cx="493" cy="253.8" r="0.8" fill="#707070"/>
<circle cx="730.3" cy="249.5" r="0.9" fill="#5a5a5a"/>
<circle cx="748.4" cy="249.1" r="1" fill="#3a3a3a"/>
<circle cx="553.1" cy="247.5" r="0.7" fill="#666"/>
<circle cx="475.7" cy="249.9" r="0.9" fill="#3a3a3a"/>
<circle cx="681.4" cy="254" r="1.1" fill="#454545"/>
<circle cx="664.8" cy="256.9" r="1" fill="#707070"/>
<circle cx="746.6" cy="256.8" r="1.1" fill="#666"/>
<circle cx="734" cy="252.8" r="0.7" fill="#707070"/>
<circle cx="463.1" cy="250.6" r="0.7" fill="#505050"/>
<circle cx="757.5" cy="256.5" r="0.7" fill="#3a3a3a"/>
<circle cx="667" cy="250.2" r="0.9" fill="#707070"/>
<circle cx="611.8" cy="254.6" r="0.7" fill="#3a3a3a"/>
<circle cx="521.3" cy="251.8" r="0.9" fill="#505050"/>
<circle cx="572.9" cy="256.5" r="1" fill="#707070"/>
<circle cx="506.8" cy="248.8" r="1" fill="#505050"/>
<circle cx="475.4" cy="255.8" r="0.8" fill="#5a5a5a"/>
<circle cx="758.1" cy="253.9" r="0.9" fill="#666"/>
<circle cx="543.1" cy="254.8" r="0.8" fill="#5a5a5a"/>
<circle cx="774.2" cy="247.9" r="0.8" fill="#454545"/>
<circle cx="500.1" cy="249.4" r="0.9" fill="#505050"/>
<circle cx="662.4" cy="255.9" r="0.9" fill="#5a5a5a"/>
<circle cx="725.8" cy="255.3" r="1" fill="#707070"/>
<circle cx="749.3" cy="256.7" r="0.7" fill="#505050"/>
<circle cx="607.4" cy="257.1" r="0.9" fill="#707070"/>
<circle cx="485.1" cy="247.7" r="1" fill="#3a3a3a"/>
<circle cx="565.4" cy="254" r="1" fill="#454545"/>
<circle cx="537.6" cy="254.8" r="1" fill="#454545"/>
<circle cx="633.2" cy="256.4" r="0.8" fill="#505050"/>
<circle cx="565.8" cy="253.7" r="0.8" fill="#666"/>
<circle cx="633" cy="255.1" r="0.9" fill="#3a3a3a"/>
<circle cx="465.3" cy="247.7" r="0.8" fill="#707070"/>
<circle cx="510.5" cy="254.5" r="0.7" fill="#3a3a3a"/>
<circle cx="512.7" cy="252.6" r="0.9" fill="#5a5a5a"/>
<circle cx="499.4" cy="252.9" r="0.8" fill="#454545"/>
<circle cx="657.4" cy="255.8" r="0.9" fill="#5a5a5a"/>
<circle cx="728.2" cy="251.2" r="0.7" fill="#454545"/>
<circle cx="459.8" cy="250.5" r="1" fill="#3a3a3a"/>
<circle cx="524.1" cy="257.5" r="0.8" fill="#5a5a5a"/>
<circle cx="560.2" cy="255.8" r="1.1" fill="#5a5a5a"/>
<circle cx="719.3" cy="251.7" r="0.7" fill="#5a5a5a"/>
<circle cx="452.5" cy="253.8" r="0.9" fill="#707070"/>
<circle cx="607.3" cy="248" r="1" fill="#666"/>
<circle cx="596.1" cy="250.6" r="0.9" fill="#454545"/>
<circle cx="789.4" cy="253.8" r="0.7" fill="#3a3a3a"/>
<circle cx="462.2" cy="250.3" r="0.8" fill="#707070"/>
<circle cx="474.4" cy="254.3" r="0.8" fill="#5a5a5a"/>
<circle cx="756.2" cy="252.1" r="0.9" fill="#5a5a5a"/>
<circle cx="772.1" cy="249.8" r="1" fill="#3a3a3a"/>
<circle cx="563.4" cy="255.9" r="0.9" fill="#3a3a3a"/>
<circle cx="636.4" cy="252" r="0.9" fill="#3a3a3a"/>
<circle cx="792.1" cy="251.3" r="0.7" fill="#707070"/>
<circle cx="464.4" cy="253.7" r="1" fill="#5a5a5a"/>
<rect x="519.3" y="246.9" width="4.8" height="1.2" fill="#fafafa"/>
<rect x="781.1" y="246.3" width="3.9" height="1.2" fill="#fafafa"/>
<rect x="484" y="245.6" width="4.3" height="1.2" fill="#fafafa"/>
<rect x="597.9" y="246.1" width="3.8" height="1.2" fill="#fafafa"/>
<rect x="564" y="245.6" width="3.9" height="1.2" fill="#fafafa"/>
<rect x="631" y="245.8" width="5" height="1.2" fill="#fafafa"/>
<rect x="608.2" y="246.6" width="2.9" height="1.2" fill="#fafafa"/>
<rect x="715.9" y="245.9" width="4.6" height="1.2" fill="#fafafa"/>
<rect x="601.3" y="246.7" width="4.8" height="1.2" fill="#fafafa"/>
<rect x="547.1" y="245.9" width="3" height="1.2" fill="#fafafa"/>
<rect x="695.2" y="246.8" width="2.2" height="1.2" fill="#fafafa"/>
<rect x="485.7" y="245.5" width="2.8" height="1.2" fill="#fafafa"/>
<rect x="684.3" y="245.4" width="2.4" height="1.2" fill="#fafafa"/>
<rect x="763" y="245.5" width="4.7" height="1.2" fill="#fafafa"/>
<rect x="514.4" y="245.5" width="1.9" height="1.2" fill="#fafafa"/>
<rect x="575.3" y="246" width="2.1" height="1.2" fill="#fafafa"/>
<rect x="547.2" y="246.9" width="5" height="1.2" fill="#fafafa"/>
<rect x="512.1" y="245.2" width="1.9" height="1.2" fill="#fafafa"/>
<rect x="487.9" y="245.1" width="2.6" height="1.2" fill="#fafafa"/>
<rect x="781.5" y="246.5" width="2.3" height="1.2" fill="#fafafa"/>
<rect x="650.5" y="246.5" width="2.5" height="1.2" fill="#fafafa"/>
<rect x="671.1" y="245" width="2.1" height="1.2" fill="#fafafa"/>
<rect x="725.3" y="245" width="2.9" height="1.2" fill="#fafafa"/>
<rect x="687.9" y="245.1" width="4.3" height="1.2" fill="#fafafa"/>
<rect x="599.3" y="246" width="1.7" height="1.2" fill="#fafafa"/>
<rect x="790.1" y="246.3" width="2.4" height="1.2" fill="#fafafa"/>
<rect x="621.7" y="246.3" width="3" height="1.2" fill="#fafafa"/>
<rect x="498.7" y="245.2" width="3.8" height="1.2" fill="#fafafa"/>
<rect x="764.5" y="245.2" width="2.9" height="1.2" fill="#fafafa"/>
<rect x="530.4" y="246.2" width="3.6" height="1.2" fill="#fafafa"/>
<rect x="598" y="245.5" width="3.9" height="1.2" fill="#fafafa"/>
<rect x="777.5" y="245.1" width="2.1" height="1.2" fill="#fafafa"/>
<rect x="668.1" y="246" width="3.1" height="1.2" fill="#fafafa"/>
<rect x="513.6" y="246.1" width="4.5" height="1.2" fill="#fafafa"/>
<rect x="569.3" y="245.1" width="4" height="1.2" fill="#fafafa"/>
<rect x="593.1" y="245.2" width="4.1" height="1.2" fill="#fafafa"/>
<rect x="654.4" y="246.6" width="2.4" height="1.2" fill="#fafafa"/>
<rect x="710.1" y="245.9" width="2.5" height="1.2" fill="#fafafa"/>
<rect x="698.5" y="245.5" width="3.7" height="1.2" fill="#fafafa"/>
<rect x="642.3" y="245.9" width="1.8" height="1.2" fill="#fafafa"/>
<rect x="574.1" y="246.5" width="4" height="1.2" fill="#fafafa"/>
<rect x="710.5" y="246.3" width="3.3" height="1.2" fill="#fafafa"/>
<rect x="459.2" y="246.9" width="2.6" height="1.2" fill="#fafafa"/>
<rect x="749.4" y="246.7" width="3.2" height="1.2" fill="#fafafa"/>
<rect x="698.5" y="246.4" width="1.9" height="1.2" fill="#fafafa"/>
<rect x="661.3" y="245.2" width="4.9" height="1.2" fill="#fafafa"/>
<rect x="541" y="246.3" width="1.9" height="1.2" fill="#fafafa"/>
<rect x="595.7" y="246.4" width="2.5" height="1.2" fill="#fafafa"/>
<rect x="688.8" y="245" width="2.8" height="1.2" fill="#fafafa"/>
<rect x="602.1" y="246" width="4.1" height="1.2" fill="#fafafa"/>
<rect x="748.4" y="246.3" width="4.2" height="1.2" fill="#fafafa"/>
<rect x="594.2" y="246.2" width="2.5" height="1.2" fill="#fafafa"/>
<rect x="746.7" y="245.2" width="4.7" height="1.2" fill="#fafafa"/>
<rect x="652.2" y="245.7" width="4.6" height="1.2" fill="#fafafa"/>
<rect x="515.2" y="246.8" width="2.5" height="1.2" fill="#fafafa"/>
<rect x="584" y="246.2" width="2.4" height="1.2" fill="#fafafa"/>
<rect x="754.2" y="246.7" width="2.8" height="1.2" fill="#fafafa"/>
<rect x="644.6" y="246.1" width="2.8" height="1.2" fill="#fafafa"/>
<rect x="770.1" y="245.3" width="2" height="1.2" fill="#fafafa"/>
<rect x="665.1" y="245.5" width="4" height="1.2" fill="#fafafa"/>
<rect x="672" y="245.2" width="2.4" height="1.2" fill="#fafafa"/>
<rect x="626.4" y="245" width="2.5" height="1.2" fill="#fafafa"/>
<rect x="613.7" y="246.3" width="2.8" height="1.2" fill="#fafafa"/>
<rect x="455.3" y="246.9" width="2.3" height="1.2" fill="#fafafa"/>
<rect x="581.7" y="246.1" width="4" height="1.2" fill="#fafafa"/>
<rect x="781.5" y="246.3" width="4.2" height="1.2" fill="#fafafa"/>
<rect x="664.5" y="246.5" width="4.4" height="1.2" fill="#fafafa"/>
<rect x="462.3" y="245.1" width="3.4" height="1.2" fill="#fafafa"/>
<rect x="713.1" y="246" width="4.3" height="1.2" fill="#fafafa"/>
<rect x="451.5" y="258.5" width="346.7" height="19" fill="url(#ch)"/>
<circle cx="460.4" cy="264" r="1.6" fill="#1a1a1a"/>
<circle cx="458.6" cy="270.8" r="1.5" fill="#1a1a1a"/>
<circle cx="474.8" cy="267" r="1.5" fill="#1a1a1a"/>
<circle cx="486.1" cy="262.2" r="1.4" fill="#1a1a1a"/>
<circle cx="480.5" cy="268.3" r="1.4" fill="#1a1a1a"/>
<circle cx="487.2" cy="261" r="1.4" fill="#1a1a1a"/>
<circle cx="490.3" cy="270.9" r="1.3" fill="#1a1a1a"/>
<circle cx="507.3" cy="275" r="1.4" fill="#1a1a1a"/>
<circle cx="518.9" cy="261.8" r="1.2" fill="#1a1a1a"/>
<circle cx="519.5" cy="269.1" r="1.3" fill="#1a1a1a"/>
<circle cx="529.4" cy="271.5" r="1.5" fill="#1a1a1a"/>
<circle cx="541" cy="261.7" r="1.6" fill="#1a1a1a"/>
<circle cx="548.9" cy="264" r="1.5" fill="#1a1a1a"/>
<circle cx="552.4" cy="271.6" r="1.6" fill="#1a1a1a"/>
<circle cx="555.4" cy="261.6" r="1.4" fill="#1a1a1a"/>
<circle cx="559.5" cy="270.4" r="1.4" fill="#1a1a1a"/>
<circle cx="570.9" cy="264.2" r="1.3" fill="#1a1a1a"/>
<circle cx="568.8" cy="268.6" r="1.6" fill="#1a1a1a"/>
<circle cx="582.1" cy="263" r="1.2" fill="#1a1a1a"/>
<circle cx="576.8" cy="274.4" r="1.2" fill="#1a1a1a"/>
<circle cx="595.4" cy="260.8" r="1.5" fill="#1a1a1a"/>
<circle cx="589.5" cy="275" r="1.3" fill="#1a1a1a"/>
<circle cx="605.7" cy="262.6" r="1.2" fill="#1a1a1a"/>
<circle cx="604.9" cy="270.6" r="1.3" fill="#1a1a1a"/>
<circle cx="614.6" cy="264.2" r="1.5" fill="#1a1a1a"/>
<circle cx="615.6" cy="272.2" r="1.2" fill="#1a1a1a"/>
<circle cx="625.4" cy="266.2" r="1.4" fill="#1a1a1a"/>
<circle cx="628.2" cy="272.6" r="1.6" fill="#1a1a1a"/>
<circle cx="633.6" cy="273.2" r="1.5" fill="#1a1a1a"/>
<circle cx="643.7" cy="262.8" r="1.3" fill="#1a1a1a"/>
<circle cx="645.9" cy="273.8" r="1.2" fill="#1a1a1a"/>
<circle cx="654.7" cy="262.7" r="1.3" fill="#1a1a1a"/>
<circle cx="652.2" cy="273.6" r="1.6" fill="#1a1a1a"/>
<circle cx="671.9" cy="267.5" r="1.3" fill="#1a1a1a"/>
<circle cx="670.7" cy="270.2" r="1.4" fill="#1a1a1a"/>
<circle cx="681" cy="265.9" r="1.6" fill="#1a1a1a"/>
<circle cx="692.6" cy="266.2" r="1.2" fill="#1a1a1a"/>
<circle cx="684.9" cy="275.3" r="1.2" fill="#1a1a1a"/>
<circle cx="698.4" cy="261" r="1.2" fill="#1a1a1a"/>
<circle cx="703.6" cy="274.2" r="1.5" fill="#1a1a1a"/>
<circle cx="710.4" cy="264.4" r="1.2" fill="#1a1a1a"/>
<circle cx="707.7" cy="271.5" r="1.3" fill="#1a1a1a"/>
<circle cx="724" cy="268.2" r="1.4" fill="#1a1a1a"/>
<circle cx="732.5" cy="266.9" r="1.3" fill="#1a1a1a"/>
<circle cx="737.1" cy="269.7" r="1.5" fill="#1a1a1a"/>
<circle cx="749.6" cy="261.4" r="1.4" fill="#1a1a1a"/>
<circle cx="761.2" cy="267.4" r="1.3" fill="#1a1a1a"/>
<circle cx="756.6" cy="271.4" r="1.5" fill="#1a1a1a"/>
<circle cx="763" cy="269.7" r="1.6" fill="#1a1a1a"/>
<circle cx="777.5" cy="265.2" r="1.2" fill="#1a1a1a"/>
<circle cx="777.3" cy="272.9" r="1.4" fill="#1a1a1a"/>
<circle cx="792" cy="261.5" r="1.2" fill="#1a1a1a"/>
<circle cx="791" cy="273.6" r="1.5" fill="#1a1a1a"/>
<line x1="451.5" y1="277.5" x2="798.2" y2="277.5" stroke="#a8a8a8" stroke-width="1"/>
<line x1="451.5" y1="258.5" x2="798.2" y2="258.5" stroke="#a0a0a0" stroke-width="0.8"/>
<path d="M451.5,212.5 Q451.7,227.6 452.1,235.1 Q452.5,242.7 452.4,250.2 Q452.3,257.8 452.5,265.4 Q452.7,272.9 452.1,280.4 L451.5,288" fill="none" stroke="#484848" stroke-width="1.15" stroke-linejoin="round"/>
<path d="M798.2,201 Q797,218.6 797,227.4 Q797,236.2 797.9,245 Q798.8,253.8 799,262.6 Q799.3,271.4 798.9,280.2 L798.5,289" fill="none" stroke="#484848" stroke-width="1.15" stroke-linejoin="round"/>
<rect x="451" y="220" width="171" height="20.5" fill="url(#th)" stroke="#b4b4b4" stroke-width="0.9"/>
<rect x="632.5" y="207" width="165.5" height="21" fill="url(#th)" stroke="#b4b4b4" stroke-width="0.9"/>
<path d="M600,246 Q627,260 654,246" fill="none" stroke="#151515" stroke-width="4" stroke-linecap="round"/>
<line x1="627" y1="184" x2="627" y2="252" stroke="#151515" stroke-width="4.4" stroke-linecap="round"/>
<polygon points="632.8,201.6 687.5,178.2 690.6,197.2 633.2,204.3" fill="#fdcb00" stroke="#c9a000" stroke-width="0.9" stroke-linejoin="round"/>
<line x1="709.8" y1="184.9" x2="776" y2="173.2" stroke="#d8222e" stroke-width="4.2" stroke-linecap="round"/><polygon points="698,187 715,191.1 709.8,184.9 712.5,177.3" fill="#d8222e"/>
<circle cx="475.2" cy="180.1" r="21.4" fill="#fff" stroke="#151515" stroke-width="3.4"/><path d="M71 0V195Q126 316 227.5 431.0Q329 546 483 671Q631 791 690.5 869.0Q750 947 750 1022Q750 1206 565 1206Q475 1206 427.5 1157.5Q380 1109 366 1012L83 1028Q107 1224 229.5 1327.0Q352 1430 563 1430Q791 1430 913.0 1326.0Q1035 1222 1035 1034Q1035 935 996.0 855.0Q957 775 896.0 707.5Q835 640 760.5 581.0Q686 522 616.0 466.0Q546 410 488.5 353.0Q431 296 403 231H1057V0Z" fill="#151515" stroke="#151515" stroke-width="18.1" transform="translate(465.03,191.10) scale(0.01653,-0.01783)"/>
<rect x="6.5" y="393.5" width="347" height="13" fill="#d9d9d9"/>
<rect x="6.5" y="393.5" width="347" height="1.6" fill="#f6f6f6"/>
<rect x="202.1" y="400.8" width="6.1" height="1.6" fill="#e6e6e6"/>
<rect x="230.1" y="403.4" width="6.5" height="1.4" fill="#e6e6e6"/>
<rect x="230" y="400.7" width="4.5" height="2.9" fill="#e6e6e6"/>
<rect x="187.7" y="399" width="6.7" height="2.3" fill="#e6e6e6"/>
<rect x="109.8" y="397.6" width="4.5" height="1.1" fill="#e6e6e6"/>
<rect x="214.9" y="401.9" width="4.1" height="2.7" fill="#e6e6e6"/>
<rect x="324.8" y="400.1" width="5.4" height="1.2" fill="#e6e6e6"/>
<rect x="25.7" y="404.3" width="3.4" height="1.4" fill="#e6e6e6"/>
<rect x="314.1" y="402" width="2.6" height="1.6" fill="#e6e6e6"/>
<rect x="89.7" y="397.2" width="2" height="2" fill="#e6e6e6"/>
<rect x="110.9" y="398.4" width="2.9" height="1.2" fill="#e6e6e6"/>
<rect x="17.8" y="403.2" width="5.7" height="2.1" fill="#e6e6e6"/>
<rect x="49" y="396" width="2.6" height="1.6" fill="#e6e6e6"/>
<rect x="26.3" y="397.3" width="3" height="1.4" fill="#e6e6e6"/>
<rect x="230.7" y="399.1" width="4.4" height="1.7" fill="#e6e6e6"/>
<rect x="191.4" y="402.4" width="3.5" height="1.1" fill="#e6e6e6"/>
<rect x="171.5" y="398.3" width="5.9" height="1.2" fill="#e6e6e6"/>
<rect x="305.8" y="394.6" width="4.7" height="1.9" fill="#e6e6e6"/>
<rect x="114.7" y="403.4" width="5.5" height="1.3" fill="#e6e6e6"/>
<rect x="176.3" y="400.6" width="2.2" height="1.2" fill="#e6e6e6"/>
<rect x="212.9" y="401.8" width="4.3" height="1.8" fill="#e6e6e6"/>
<rect x="180.4" y="397.1" width="6.4" height="2.9" fill="#e6e6e6"/>
<rect x="171.8" y="394.7" width="4" height="2.6" fill="#e6e6e6"/>
<rect x="118" y="395.6" width="2.9" height="2.4" fill="#e6e6e6"/>
<rect x="219.9" y="397.4" width="5.1" height="2.5" fill="#e6e6e6"/>
<rect x="337.9" y="402.8" width="4.2" height="2.6" fill="#e6e6e6"/>
<rect x="323.9" y="403.2" width="5.8" height="2.2" fill="#e6e6e6"/>
<rect x="181.9" y="403" width="5.1" height="2.4" fill="#e6e6e6"/>
<rect x="84.7" y="395.4" width="3.4" height="2.2" fill="#e6e6e6"/>
<rect x="203" y="396.5" width="2.9" height="2.9" fill="#e6e6e6"/>
<rect x="31" y="403.8" width="5.9" height="2.1" fill="#e6e6e6"/>
<rect x="348" y="401.3" width="2" height="2.9" fill="#e6e6e6"/>
<rect x="148.3" y="403.7" width="6.1" height="1.3" fill="#e6e6e6"/>
<rect x="20.1" y="394.7" width="5.9" height="2.6" fill="#e6e6e6"/>
<rect x="84.7" y="395.6" width="3.8" height="2.6" fill="#e6e6e6"/>
<rect x="260.6" y="403.2" width="6.8" height="2.5" fill="#e6e6e6"/>
<rect x="293.1" y="394.7" width="2" height="2.7" fill="#e6e6e6"/>
<rect x="218.7" y="397.8" width="2.6" height="1.7" fill="#e6e6e6"/>
<rect x="122.8" y="399.5" width="4.2" height="1.4" fill="#e6e6e6"/>
<rect x="34.6" y="396.5" width="2.6" height="1.2" fill="#e6e6e6"/>
<rect x="148.7" y="395.8" width="6" height="2.1" fill="#e6e6e6"/>
<rect x="164.3" y="400.9" width="3.2" height="1" fill="#e6e6e6"/>
<rect x="33.5" y="397.9" width="3.8" height="1.5" fill="#e6e6e6"/>
<rect x="111.6" y="402.8" width="2" height="1.9" fill="#e6e6e6"/>
<rect x="137.9" y="397.3" width="5.6" height="1.4" fill="#e6e6e6"/>
<rect x="21" y="396.1" width="6.9" height="1.7" fill="#e6e6e6"/>
<rect x="46.7" y="404.2" width="5.2" height="2.9" fill="#e6e6e6"/>
<rect x="120.2" y="402.6" width="2.2" height="1.5" fill="#e6e6e6"/>
<rect x="279.1" y="399.7" width="5.9" height="1.8" fill="#e6e6e6"/>
<rect x="307.1" y="395.3" width="5.1" height="1.4" fill="#e6e6e6"/>
<rect x="74.9" y="403.3" width="4.2" height="2.6" fill="#e6e6e6"/>
<rect x="103.9" y="401.8" width="6.5" height="2.3" fill="#e6e6e6"/>
<rect x="87" y="401.2" width="6.8" height="2.6" fill="#e6e6e6"/>
<rect x="158.8" y="398.5" width="2.5" height="2.5" fill="#e6e6e6"/>
<rect x="60.8" y="396.7" width="2.2" height="1.3" fill="#e6e6e6"/>
<rect x="138.1" y="399.3" width="2.9" height="1.8" fill="#e6e6e6"/>
<rect x="266.5" y="395.5" width="2.7" height="2" fill="#e6e6e6"/>
<rect x="316.5" y="403.7" width="4.8" height="1.2" fill="#e6e6e6"/>
<rect x="306.2" y="404.4" width="6.5" height="2.1" fill="#e6e6e6"/>
<rect x="137.7" y="400.4" width="6" height="3" fill="#e6e6e6"/>
<rect x="175.8" y="399.6" width="3.6" height="2.1" fill="#e6e6e6"/>
<rect x="193" y="397.3" width="4.3" height="2.8" fill="#e6e6e6"/>
<rect x="87.4" y="397" width="3.5" height="2.7" fill="#e6e6e6"/>
<rect x="110.5" y="402.8" width="6.6" height="2.8" fill="#e6e6e6"/>
<rect x="282.4" y="396.4" width="4.3" height="2.6" fill="#e6e6e6"/>
<rect x="90.8" y="400.5" width="6.4" height="2.9" fill="#e6e6e6"/>
<rect x="126.8" y="395.7" width="2.2" height="1.6" fill="#e6e6e6"/>
<rect x="194.2" y="397.3" width="6.1" height="2.3" fill="#e6e6e6"/>
<rect x="219.6" y="402.8" width="3.6" height="2.3" fill="#e6e6e6"/>
<circle cx="128.5" cy="398.4" r="0.7" fill="#666"/>
<circle cx="318.1" cy="395.8" r="1" fill="#3a3a3a"/>
<circle cx="291.8" cy="400.7" r="0.8" fill="#3a3a3a"/>
<circle cx="156.9" cy="400.6" r="0.8" fill="#505050"/>
<circle cx="128.5" cy="405.1" r="0.9" fill="#666"/>
<circle cx="197.3" cy="402.9" r="1" fill="#505050"/>
<circle cx="162.4" cy="398.5" r="0.8" fill="#666"/>
<circle cx="122.6" cy="397.3" r="1.1" fill="#707070"/>
<circle cx="113.6" cy="402.7" r="0.9" fill="#505050"/>
<circle cx="128.6" cy="403" r="0.8" fill="#707070"/>
<circle cx="210.7" cy="398.6" r="0.9" fill="#3a3a3a"/>
<circle cx="150.7" cy="402.8" r="1" fill="#454545"/>
<circle cx="306.8" cy="404.8" r="1" fill="#5a5a5a"/>
<circle cx="90.1" cy="405.2" r="1" fill="#666"/>
<circle cx="64.4" cy="400.8" r="0.8" fill="#707070"/>
<circle cx="176.5" cy="396.7" r="0.9" fill="#666"/>
<circle cx="73.6" cy="398.9" r="1" fill="#666"/>
<circle cx="115.8" cy="403" r="0.8" fill="#505050"/>
<circle cx="67.4" cy="402.1" r="0.7" fill="#666"/>
<circle cx="31.2" cy="395.8" r="0.8" fill="#454545"/>
<circle cx="197.1" cy="399.5" r="1" fill="#707070"/>
<circle cx="169.9" cy="397.5" r="0.7" fill="#666"/>
<circle cx="212" cy="401.1" r="0.9" fill="#3a3a3a"/>
<circle cx="284.4" cy="399.2" r="1" fill="#3a3a3a"/>
<circle cx="316.9" cy="404.6" r="1" fill="#5a5a5a"/>
<circle cx="258.5" cy="405.3" r="0.8" fill="#505050"/>
<circle cx="262.5" cy="400.7" r="1" fill="#454545"/>
<circle cx="78.6" cy="396.9" r="0.7" fill="#666"/>
<circle cx="326" cy="403.4" r="1.1" fill="#454545"/>
<circle cx="23.5" cy="397.6" r="0.9" fill="#5a5a5a"/>
<circle cx="177.8" cy="402.4" r="0.8" fill="#5a5a5a"/>
<circle cx="124.1" cy="400.6" r="0.7" fill="#505050"/>
<circle cx="60.2" cy="398.2" r="1" fill="#3a3a3a"/>
<circle cx="349.2" cy="402" r="0.9" fill="#666"/>
<circle cx="254.2" cy="403.7" r="0.9" fill="#666"/>
<circle cx="253.9" cy="395.8" r="0.9" fill="#505050"/>
<circle cx="95.8" cy="399.1" r="1.1" fill="#454545"/>
<circle cx="181.7" cy="400.7" r="0.9" fill="#3a3a3a"/>
<circle cx="15.6" cy="404.6" r="0.9" fill="#3a3a3a"/>
<circle cx="256.1" cy="404" r="0.9" fill="#5a5a5a"/>
<circle cx="333.5" cy="405.3" r="0.9" fill="#5a5a5a"/>
<circle cx="249.7" cy="397.5" r="1.1" fill="#666"/>
<circle cx="275.8" cy="402.7" r="1.1" fill="#5a5a5a"/>
<circle cx="60.9" cy="399.2" r="0.7" fill="#707070"/>
<circle cx="307.8" cy="404.2" r="0.8" fill="#5a5a5a"/>
<circle cx="118.8" cy="398.5" r="0.8" fill="#505050"/>
<circle cx="135.5" cy="397.6" r="0.8" fill="#707070"/>
<circle cx="320.1" cy="401.4" r="0.9" fill="#666"/>
<circle cx="333.9" cy="397.7" r="1" fill="#3a3a3a"/>
<circle cx="268.4" cy="400.9" r="1" fill="#666"/>
<circle cx="200.3" cy="403.7" r="1" fill="#505050"/>
<circle cx="309.3" cy="401.3" r="0.8" fill="#454545"/>
<circle cx="343.1" cy="395.7" r="1.1" fill="#5a5a5a"/>
<circle cx="335.9" cy="403.6" r="0.9" fill="#454545"/>
<circle cx="221.4" cy="404.4" r="1" fill="#505050"/>
<circle cx="9.6" cy="395.6" r="0.9" fill="#666"/>
<circle cx="310.6" cy="403.9" r="0.7" fill="#454545"/>
<circle cx="235.4" cy="397.3" r="0.9" fill="#3a3a3a"/>
<circle cx="338.9" cy="395.7" r="0.9" fill="#505050"/>
<circle cx="249.3" cy="404.4" r="0.8" fill="#666"/>
<circle cx="129.5" cy="402.6" r="0.9" fill="#707070"/>
<circle cx="62.9" cy="403.2" r="1" fill="#505050"/>
<circle cx="250.7" cy="404.4" r="1.1" fill="#505050"/>
<circle cx="312" cy="400.3" r="0.7" fill="#666"/>
<circle cx="48.2" cy="397.1" r="0.7" fill="#707070"/>
<circle cx="286.3" cy="402.8" r="0.8" fill="#505050"/>
<circle cx="23.6" cy="397.1" r="0.9" fill="#707070"/>
<circle cx="329.5" cy="395.5" r="0.9" fill="#454545"/>
<circle cx="287.6" cy="402.8" r="1" fill="#5a5a5a"/>
<circle cx="321.1" cy="404.8" r="0.8" fill="#3a3a3a"/>
<circle cx="108.9" cy="400.6" r="0.8" fill="#5a5a5a"/>
<circle cx="160.1" cy="399.6" r="1" fill="#505050"/>
<circle cx="201" cy="404.2" r="1.1" fill="#707070"/>
<circle cx="32" cy="400.1" r="0.9" fill="#707070"/>
<circle cx="74.9" cy="399.8" r="0.8" fill="#666"/>
<circle cx="250" cy="399.3" r="0.9" fill="#505050"/>
<circle cx="195.5" cy="398.8" r="1.1" fill="#5a5a5a"/>
<circle cx="131.5" cy="395.6" r="0.7" fill="#505050"/>
<circle cx="41.6" cy="397" r="0.9" fill="#666"/>
<circle cx="323.7" cy="398.3" r="0.8" fill="#3a3a3a"/>
<circle cx="303.7" cy="404.9" r="0.7" fill="#3a3a3a"/>
<circle cx="72.6" cy="399.5" r="0.9" fill="#5a5a5a"/>
<circle cx="39.4" cy="398.7" r="0.8" fill="#707070"/>
<circle cx="144.2" cy="403.2" r="0.7" fill="#505050"/>
<circle cx="212.5" cy="404.2" r="1.1" fill="#454545"/>
<circle cx="64.2" cy="399.8" r="0.9" fill="#666"/>
<circle cx="18.5" cy="403.1" r="1" fill="#5a5a5a"/>
<circle cx="261.2" cy="395.9" r="1.1" fill="#505050"/>
<circle cx="308.2" cy="398.2" r="1" fill="#454545"/>
<circle cx="123.3" cy="401.5" r="1" fill="#5a5a5a"/>
<circle cx="24.3" cy="399.1" r="0.9" fill="#454545"/>
<circle cx="55.9" cy="401.4" r="1" fill="#5a5a5a"/>
<circle cx="255.6" cy="398.1" r="0.8" fill="#5a5a5a"/>
<circle cx="35.2" cy="404.7" r="0.7" fill="#454545"/>
<circle cx="84.1" cy="398.1" r="0.9" fill="#505050"/>
<circle cx="49.3" cy="404.5" r="1.1" fill="#5a5a5a"/>
<circle cx="49.1" cy="405.2" r="0.8" fill="#707070"/>
<circle cx="265.3" cy="402.4" r="1" fill="#3a3a3a"/>
<circle cx="224.5" cy="403.5" r="1" fill="#505050"/>
<circle cx="119.7" cy="396.2" r="0.9" fill="#5a5a5a"/>
<circle cx="253.9" cy="396.2" r="0.7" fill="#3a3a3a"/>
<circle cx="328.3" cy="401.1" r="0.9" fill="#3a3a3a"/>
<circle cx="165.1" cy="405" r="1" fill="#707070"/>
<circle cx="42.1" cy="404.4" r="0.9" fill="#3a3a3a"/>
<circle cx="142.6" cy="403.7" r="0.9" fill="#3a3a3a"/>
<circle cx="63.2" cy="399.4" r="0.8" fill="#3a3a3a"/>
<circle cx="292.7" cy="398.4" r="1.1" fill="#454545"/>
<circle cx="28.2" cy="401.1" r="0.8" fill="#454545"/>
<circle cx="328.6" cy="402.3" r="1" fill="#3a3a3a"/>
<circle cx="302" cy="404.8" r="0.9" fill="#3a3a3a"/>
<circle cx="291.8" cy="403.2" r="1" fill="#666"/>
<circle cx="66.3" cy="399.5" r="0.9" fill="#454545"/>
<circle cx="11.9" cy="397" r="0.9" fill="#5a5a5a"/>
<circle cx="301.6" cy="404.1" r="1" fill="#3a3a3a"/>
<circle cx="328" cy="399.4" r="0.8" fill="#5a5a5a"/>
<circle cx="338.7" cy="402.5" r="1" fill="#505050"/>
<circle cx="269.1" cy="401.3" r="0.7" fill="#505050"/>
<circle cx="121.2" cy="398.6" r="0.7" fill="#454545"/>
<circle cx="264.7" cy="403" r="1" fill="#3a3a3a"/>
<circle cx="261.3" cy="403.8" r="0.8" fill="#707070"/>
<circle cx="138" cy="399.7" r="0.8" fill="#666"/>
<circle cx="43.3" cy="397.6" r="1.1" fill="#505050"/>
<circle cx="192.4" cy="400.9" r="1" fill="#3a3a3a"/>
<circle cx="50.7" cy="405.2" r="1" fill="#707070"/>
<circle cx="97.2" cy="400.9" r="0.7" fill="#707070"/>
<circle cx="148.5" cy="404.5" r="1.1" fill="#3a3a3a"/>
<circle cx="44.9" cy="397.9" r="1" fill="#5a5a5a"/>
<circle cx="223.3" cy="399.1" r="1" fill="#5a5a5a"/>
<circle cx="133.9" cy="405.2" r="0.9" fill="#666"/>
<circle cx="219" cy="396.6" r="1" fill="#5a5a5a"/>
<circle cx="103.1" cy="399.8" r="1" fill="#5a5a5a"/>
<circle cx="335.2" cy="397.7" r="0.9" fill="#3a3a3a"/>
<circle cx="277.8" cy="400.7" r="1" fill="#707070"/>
<circle cx="219.8" cy="404.3" r="0.7" fill="#666"/>
<circle cx="326.3" cy="402" r="0.7" fill="#454545"/>
<circle cx="65.7" cy="399.7" r="1" fill="#454545"/>
<circle cx="66.5" cy="398.5" r="0.9" fill="#707070"/>
<circle cx="156.9" cy="398.6" r="0.8" fill="#707070"/>
<circle cx="30.3" cy="399.5" r="1" fill="#3a3a3a"/>
<circle cx="337" cy="398.9" r="0.8" fill="#707070"/>
<circle cx="193.2" cy="399.2" r="0.9" fill="#505050"/>
<circle cx="52" cy="402.5" r="0.8" fill="#3a3a3a"/>
<circle cx="59.8" cy="401" r="0.7" fill="#5a5a5a"/>
<circle cx="195.6" cy="400" r="0.9" fill="#707070"/>
<circle cx="253" cy="402.7" r="0.8" fill="#5a5a5a"/>
<circle cx="287.6" cy="401.1" r="0.9" fill="#454545"/>
<circle cx="235" cy="398.2" r="1" fill="#454545"/>
<circle cx="191.9" cy="397.4" r="0.9" fill="#666"/>
<circle cx="60.1" cy="404.5" r="0.9" fill="#3a3a3a"/>
<circle cx="74.6" cy="399.5" r="0.7" fill="#3a3a3a"/>
<circle cx="256.6" cy="397.8" r="0.7" fill="#707070"/>
<circle cx="205.9" cy="400.3" r="1.1" fill="#707070"/>
<circle cx="347.2" cy="400.2" r="1.1" fill="#666"/>
<circle cx="122.1" cy="400.2" r="0.9" fill="#454545"/>
<circle cx="289.5" cy="404.6" r="1.1" fill="#3a3a3a"/>
<circle cx="29.3" cy="405.4" r="0.8" fill="#666"/>
<circle cx="349.5" cy="403.4" r="0.9" fill="#666"/>
<circle cx="25.7" cy="398.5" r="0.9" fill="#3a3a3a"/>
<circle cx="182.3" cy="399" r="0.9" fill="#3a3a3a"/>
<circle cx="183.5" cy="396.7" r="0.7" fill="#3a3a3a"/>
<circle cx="60.2" cy="403" r="0.9" fill="#666"/>
<circle cx="89.4" cy="400.7" r="0.9" fill="#505050"/>
<circle cx="97.1" cy="403.2" r="1" fill="#454545"/>
<circle cx="191.2" cy="398.4" r="1.1" fill="#707070"/>
<circle cx="114.4" cy="397.8" r="0.9" fill="#666"/>
<circle cx="108.5" cy="405.3" r="0.9" fill="#666"/>
<circle cx="347" cy="403.1" r="0.8" fill="#666"/>
<circle cx="207.8" cy="404.1" r="0.8" fill="#707070"/>
<circle cx="82.2" cy="397.7" r="0.8" fill="#505050"/>
<circle cx="270.6" cy="400.7" r="0.9" fill="#3a3a3a"/>
<circle cx="219.7" cy="403.6" r="1" fill="#505050"/>
<circle cx="54" cy="395.8" r="0.8" fill="#666"/>
<circle cx="291.6" cy="401.8" r="0.7" fill="#666"/>
<circle cx="62.3" cy="398.1" r="0.8" fill="#3a3a3a"/>
<circle cx="176.8" cy="404.5" r="0.8" fill="#3a3a3a"/>
<circle cx="344.8" cy="395.7" r="0.8" fill="#505050"/>
<circle cx="333.6" cy="401.7" r="0.8" fill="#3a3a3a"/>
<circle cx="277.3" cy="397.3" r="0.9" fill="#707070"/>
<circle cx="164.3" cy="400.6" r="0.7" fill="#3a3a3a"/>
<circle cx="134" cy="398.8" r="0.7" fill="#5a5a5a"/>
<circle cx="73.6" cy="401.4" r="1" fill="#666"/>
<circle cx="248.3" cy="398.6" r="0.7" fill="#454545"/>
<circle cx="80.7" cy="402.6" r="1" fill="#5a5a5a"/>
<circle cx="186.4" cy="396.7" r="0.7" fill="#454545"/>
<circle cx="80.7" cy="397.6" r="1" fill="#454545"/>
<circle cx="332.3" cy="399.2" r="0.9" fill="#666"/>
<circle cx="300.5" cy="398.3" r="1" fill="#3a3a3a"/>
<rect x="311.8" y="393.3" width="4.6" height="1.2" fill="#fafafa"/>
<rect x="177.7" y="393.5" width="4.1" height="1.2" fill="#fafafa"/>
<rect x="15.2" y="394.5" width="2.3" height="1.2" fill="#fafafa"/>
<rect x="251.6" y="394.2" width="3.8" height="1.2" fill="#fafafa"/>
<rect x="89.5" y="393.1" width="1.6" height="1.2" fill="#fafafa"/>
<rect x="127.5" y="393.9" width="4.8" height="1.2" fill="#fafafa"/>
<rect x="258.4" y="393" width="3.8" height="1.2" fill="#fafafa"/>
<rect x="200.5" y="394.7" width="2" height="1.2" fill="#fafafa"/>
<rect x="295.4" y="394" width="3.8" height="1.2" fill="#fafafa"/>
<rect x="337.6" y="393.7" width="4.1" height="1.2" fill="#fafafa"/>
<rect x="49.9" y="394.3" width="3.4" height="1.2" fill="#fafafa"/>
<rect x="270.5" y="395" width="4" height="1.2" fill="#fafafa"/>
<rect x="170.7" y="393.3" width="2.6" height="1.2" fill="#fafafa"/>
<rect x="121.8" y="394.2" width="2.1" height="1.2" fill="#fafafa"/>
<rect x="271.5" y="393.5" width="3.1" height="1.2" fill="#fafafa"/>
<rect x="72.7" y="394.6" width="1.7" height="1.2" fill="#fafafa"/>
<rect x="349" y="393" width="1.7" height="1.2" fill="#fafafa"/>
<rect x="163.3" y="393.6" width="3.3" height="1.2" fill="#fafafa"/>
<rect x="50.9" y="394" width="1.9" height="1.2" fill="#fafafa"/>
<rect x="339.3" y="393.4" width="2.4" height="1.2" fill="#fafafa"/>
<rect x="46.3" y="394.8" width="4.1" height="1.2" fill="#fafafa"/>
<rect x="275.8" y="394.3" width="4.9" height="1.2" fill="#fafafa"/>
<rect x="275.8" y="393.2" width="2.4" height="1.2" fill="#fafafa"/>
<rect x="244.1" y="393.2" width="1.7" height="1.2" fill="#fafafa"/>
<rect x="80.2" y="393.5" width="4.3" height="1.2" fill="#fafafa"/>
<rect x="185.3" y="393.5" width="4.6" height="1.2" fill="#fafafa"/>
<rect x="271.2" y="393.9" width="3" height="1.2" fill="#fafafa"/>
<rect x="225.6" y="394.1" width="4.4" height="1.2" fill="#fafafa"/>
<rect x="144.9" y="393.2" width="4.2" height="1.2" fill="#fafafa"/>
<rect x="124.4" y="393.8" width="3.1" height="1.2" fill="#fafafa"/>
<rect x="77.2" y="394" width="4.8" height="1.2" fill="#fafafa"/>
<rect x="18.2" y="393.5" width="4.5" height="1.2" fill="#fafafa"/>
<rect x="99.7" y="394.9" width="1.7" height="1.2" fill="#fafafa"/>
<rect x="126.4" y="393.2" width="3.7" height="1.2" fill="#fafafa"/>
<rect x="261.3" y="394.2" width="4.6" height="1.2" fill="#fafafa"/>
<rect x="167.6" y="394.2" width="3.8" height="1.2" fill="#fafafa"/>
<rect x="83.5" y="393.2" width="3.1" height="1.2" fill="#fafafa"/>
<rect x="315.7" y="394.6" width="1.7" height="1.2" fill="#fafafa"/>
<rect x="212.9" y="393.1" width="4.7" height="1.2" fill="#fafafa"/>
<rect x="110.6" y="394.5" width="3.8" height="1.2" fill="#fafafa"/>
<rect x="172.6" y="394.7" width="2.1" height="1.2" fill="#fafafa"/>
<rect x="168.4" y="394.5" width="3.3" height="1.2" fill="#fafafa"/>
<rect x="96" y="395" width="3" height="1.2" fill="#fafafa"/>
<rect x="349.7" y="394.8" width="4.9" height="1.2" fill="#fafafa"/>
<rect x="119.1" y="393.6" width="4.8" height="1.2" fill="#fafafa"/>
<rect x="149.2" y="393" width="4.9" height="1.2" fill="#fafafa"/>
<rect x="58.5" y="393.4" width="3.5" height="1.2" fill="#fafafa"/>
<rect x="22.8" y="394.3" width="3.6" height="1.2" fill="#fafafa"/>
<rect x="205.2" y="394.6" width="2.5" height="1.2" fill="#fafafa"/>
<rect x="227.4" y="393.8" width="1.7" height="1.2" fill="#fafafa"/>
<rect x="320.7" y="393.9" width="3.2" height="1.2" fill="#fafafa"/>
<rect x="125" y="394" width="2.2" height="1.2" fill="#fafafa"/>
<rect x="221" y="393.7" width="3.5" height="1.2" fill="#fafafa"/>
<rect x="177.1" y="394.9" width="4.2" height="1.2" fill="#fafafa"/>
<rect x="333.2" y="393.2" width="4.7" height="1.2" fill="#fafafa"/>
<rect x="212.1" y="394" width="3" height="1.2" fill="#fafafa"/>
<rect x="299.8" y="393.8" width="2.5" height="1.2" fill="#fafafa"/>
<rect x="296.7" y="394.8" width="2.9" height="1.2" fill="#fafafa"/>
<rect x="30.2" y="393.6" width="2.7" height="1.2" fill="#fafafa"/>
<rect x="52.4" y="394.5" width="3.2" height="1.2" fill="#fafafa"/>
<rect x="121.1" y="394.5" width="3.9" height="1.2" fill="#fafafa"/>
<rect x="304.2" y="394" width="2.3" height="1.2" fill="#fafafa"/>
<rect x="45.4" y="394.9" width="2.8" height="1.2" fill="#fafafa"/>
<rect x="208.9" y="393.1" width="2.4" height="1.2" fill="#fafafa"/>
<rect x="174" y="394.5" width="3.9" height="1.2" fill="#fafafa"/>
<rect x="66.1" y="393.7" width="3.1" height="1.2" fill="#fafafa"/>
<rect x="63.6" y="393.4" width="4.5" height="1.2" fill="#fafafa"/>
<rect x="247.2" y="394.6" width="3" height="1.2" fill="#fafafa"/>
<rect x="176.2" y="394" width="2.9" height="1.2" fill="#fafafa"/>
<rect x="6.5" y="406.5" width="347" height="20.5" fill="url(#ch)"/>
<circle cx="12.2" cy="412.3" r="1.5" fill="#1a1a1a"/>
<circle cx="14" cy="417.9" r="1.6" fill="#1a1a1a"/>
<circle cx="28.9" cy="416.4" r="1.5" fill="#1a1a1a"/>
<circle cx="21.9" cy="424" r="1.2" fill="#1a1a1a"/>
<circle cx="34" cy="409.8" r="1.2" fill="#1a1a1a"/>
<circle cx="39.7" cy="424" r="1.3" fill="#1a1a1a"/>
<circle cx="50.7" cy="423.8" r="1.2" fill="#1a1a1a"/>
<circle cx="56.8" cy="409.9" r="1.6" fill="#1a1a1a"/>
<circle cx="62.2" cy="424.9" r="1.4" fill="#1a1a1a"/>
<circle cx="65.8" cy="411.8" r="1.3" fill="#1a1a1a"/>
<circle cx="66.9" cy="422" r="1.4" fill="#1a1a1a"/>
<circle cx="75.6" cy="422" r="1.3" fill="#1a1a1a"/>
<circle cx="85.9" cy="424.2" r="1.4" fill="#1a1a1a"/>
<circle cx="100.1" cy="412.3" r="1.5" fill="#1a1a1a"/>
<circle cx="106.4" cy="423.7" r="1.6" fill="#1a1a1a"/>
<circle cx="115.7" cy="411.8" r="1.5" fill="#1a1a1a"/>
<circle cx="108.4" cy="423.6" r="1.2" fill="#1a1a1a"/>
<circle cx="128" cy="414.8" r="1.6" fill="#1a1a1a"/>
<circle cx="120.1" cy="417" r="1.6" fill="#1a1a1a"/>
<circle cx="136.5" cy="410.8" r="1.3" fill="#1a1a1a"/>
<circle cx="134.1" cy="417.7" r="1.6" fill="#1a1a1a"/>
<circle cx="149.8" cy="411.8" r="1.2" fill="#1a1a1a"/>
<circle cx="147.5" cy="422.2" r="1.5" fill="#1a1a1a"/>
<circle cx="161.7" cy="417.5" r="1.6" fill="#1a1a1a"/>
<circle cx="173.2" cy="416.3" r="1.5" fill="#1a1a1a"/>
<circle cx="177.2" cy="412" r="1.2" fill="#1a1a1a"/>
<circle cx="180.2" cy="420.6" r="1.3" fill="#1a1a1a"/>
<circle cx="185.9" cy="414.7" r="1.5" fill="#1a1a1a"/>
<circle cx="185.5" cy="422.4" r="1.2" fill="#1a1a1a"/>
<circle cx="195.6" cy="416.6" r="1.4" fill="#1a1a1a"/>
<circle cx="201.6" cy="417.4" r="1.5" fill="#1a1a1a"/>
<circle cx="214.9" cy="409.1" r="1.5" fill="#1a1a1a"/>
<circle cx="212.1" cy="421.5" r="1.3" fill="#1a1a1a"/>
<circle cx="226.5" cy="409.3" r="1.5" fill="#1a1a1a"/>
<circle cx="219.8" cy="418.3" r="1.6" fill="#1a1a1a"/>
<circle cx="229" cy="414.4" r="1.3" fill="#1a1a1a"/>
<circle cx="239.9" cy="413.7" r="1.4" fill="#1a1a1a"/>
<circle cx="246.6" cy="424.5" r="1.2" fill="#1a1a1a"/>
<circle cx="256.4" cy="412.8" r="1.3" fill="#1a1a1a"/>
<circle cx="259" cy="422.5" r="1.2" fill="#1a1a1a"/>
<circle cx="277.6" cy="410" r="1.2" fill="#1a1a1a"/>
<circle cx="292.3" cy="415.9" r="1.6" fill="#1a1a1a"/>
<circle cx="290.7" cy="417.4" r="1.3" fill="#1a1a1a"/>
<circle cx="303.2" cy="413" r="1.3" fill="#1a1a1a"/>
<circle cx="300.2" cy="420.7" r="1.3" fill="#1a1a1a"/>
<circle cx="305.7" cy="419.5" r="1.3" fill="#1a1a1a"/>
<circle cx="321" cy="414.9" r="1.5" fill="#1a1a1a"/>
<circle cx="325.1" cy="422.4" r="1.6" fill="#1a1a1a"/>
<circle cx="331.3" cy="413.3" r="1.4" fill="#1a1a1a"/>
<circle cx="338.6" cy="413.8" r="1.5" fill="#1a1a1a"/>
<line x1="6.5" y1="427" x2="353.5" y2="427" stroke="#a8a8a8" stroke-width="1"/>
<line x1="6.5" y1="406.5" x2="353.5" y2="406.5" stroke="#a0a0a0" stroke-width="0.8"/>
<path d="M6.1,362 Q6.1,377.1 6.4,384.6 Q6.7,392.2 7.1,399.8 Q7.6,407.3 6.6,414.9 Q5.7,422.4 6.3,429.9 L6.9,437.5" fill="none" stroke="#484848" stroke-width="1.15" stroke-linejoin="round"/>
<path d="M353.8,364.5 Q354,379.6 354,387.1 Q354,394.7 353.9,402.2 Q353.8,409.8 353,417.4 Q352.2,424.9 352.7,432.4 L353.2,440" fill="none" stroke="#484848" stroke-width="1.15" stroke-linejoin="round"/>
<rect x="6.5" y="372" width="347" height="20.3" fill="url(#th)" stroke="#b4b4b4" stroke-width="0.9"/>
<rect x="178" y="371.5" width="7.5" height="21.5" fill="#fff"/>
<polygon points="150.5,371.6 205.7,354 207.8,372.4" fill="#fdcb00" stroke="#c9a000" stroke-width="0.9" stroke-linejoin="round"/>
<path d="M155,394.7 Q182.3,410.3 209,394.7" fill="none" stroke="#151515" stroke-width="4" stroke-linecap="round"/>
<line x1="182.3" y1="337" x2="182.3" y2="401" stroke="#151515" stroke-width="4.4" stroke-linecap="round"/>
<path d="M168.5,315 L197.3,321.3 L195.6,336.5 L181,337.5 L181,358.8 L166.4,349 Z" fill="#151515"/>
<path d="M178.3,339 L178.8,354" stroke="#d8d8d8" stroke-width="1.1"/>
<path d="M198.2,323.3 L218.3,310.8 L221.7,311.7 L263.3,290 Q268.5,288.5 268.6,294.6 L228.3,330 L278.3,342.5 Q281.5,345 279.2,347.8 L220,341.7 L211.4,366.6 L203.7,339.2 L196.9,335.8 Z" fill="#151515"/>
<circle cx="205.3" cy="332.2" r="1.3" fill="#fff"/>
<path d="M228.6,330.6 L218.6,339.6" stroke="#fff" stroke-width="0.7"/>
<line x1="242.5" y1="359.4" x2="339" y2="359.4" stroke="#d8222e" stroke-width="4.2" stroke-linecap="round"/><polygon points="230.5,359.4 246.5,366.4 242.5,359.4 246.5,352.4" fill="#d8222e"/>
<circle cx="23.6" cy="338.8" r="21.4" fill="#fff" stroke="#151515" stroke-width="3.4"/><path d="M1065 391Q1065 193 935.0 85.0Q805 -23 565 -23Q338 -23 204.0 81.5Q70 186 47 383L333 408Q360 205 564 205Q665 205 721.0 255.0Q777 305 777 408Q777 502 709.0 552.0Q641 602 507 602H409V829H501Q622 829 683.0 878.5Q744 928 744 1020Q744 1107 695.5 1156.5Q647 1206 554 1206Q467 1206 413.5 1158.0Q360 1110 352 1022L71 1042Q93 1224 222.0 1327.0Q351 1430 559 1430Q780 1430 904.5 1330.5Q1029 1231 1029 1055Q1029 923 951.5 838.0Q874 753 728 725V721Q890 702 977.5 614.5Q1065 527 1065 391Z" fill="#151515" stroke="#151515" stroke-width="19.6" transform="translate(15.18,351.09) scale(0.01532,-0.01783)"/>
<rect x="452" y="396.5" width="345.5" height="13.8" fill="#d9d9d9"/>
<rect x="452" y="396.5" width="345.5" height="1.6" fill="#f6f6f6"/>
<rect x="591.5" y="403.4" width="6.3" height="1.4" fill="#e6e6e6"/>
<rect x="528.9" y="397.8" width="2.6" height="1" fill="#e6e6e6"/>
<rect x="505.5" y="403" width="6.9" height="2.4" fill="#e6e6e6"/>
<rect x="581.2" y="401.9" width="5.5" height="1.7" fill="#e6e6e6"/>
<rect x="477.1" y="406.6" width="5.1" height="1.2" fill="#e6e6e6"/>
<rect x="475.9" y="398.5" width="6.8" height="1.2" fill="#e6e6e6"/>
<rect x="665.5" y="408" width="2.2" height="1.8" fill="#e6e6e6"/>
<rect x="615" y="407.4" width="2.9" height="1.5" fill="#e6e6e6"/>
<rect x="536.7" y="398" width="5.4" height="2.6" fill="#e6e6e6"/>
<rect x="601" y="397.9" width="5.6" height="2.5" fill="#e6e6e6"/>
<rect x="675.2" y="401" width="6.2" height="2.3" fill="#e6e6e6"/>
<rect x="653.5" y="403.3" width="3.2" height="1.9" fill="#e6e6e6"/>
<rect x="723.2" y="404.9" width="3.7" height="2.6" fill="#e6e6e6"/>
<rect x="738.7" y="398" width="2.8" height="1.4" fill="#e6e6e6"/>
<rect x="457" y="405.6" width="5.2" height="2.1" fill="#e6e6e6"/>
<rect x="791.7" y="401.4" width="3" height="1.2" fill="#e6e6e6"/>
<rect x="568.2" y="406.6" width="5" height="1.1" fill="#e6e6e6"/>
<rect x="599.9" y="398" width="5.1" height="1.2" fill="#e6e6e6"/>
<rect x="513.3" y="404.4" width="6.2" height="2.2" fill="#e6e6e6"/>
<rect x="552.3" y="404.5" width="3.4" height="1" fill="#e6e6e6"/>
<rect x="545.5" y="404.9" width="5.1" height="1.4" fill="#e6e6e6"/>
<rect x="739.1" y="406.5" width="3.4" height="2.9" fill="#e6e6e6"/>
<rect x="541.7" y="398.2" width="4.6" height="2.7" fill="#e6e6e6"/>
<rect x="656.8" y="403.4" width="4.4" height="1.6" fill="#e6e6e6"/>
<rect x="554.4" y="401.9" width="4.7" height="2.9" fill="#e6e6e6"/>
<rect x="476.9" y="400.2" width="6.7" height="2.3" fill="#e6e6e6"/>
<rect x="477.4" y="402.3" width="5.3" height="2.8" fill="#e6e6e6"/>
<rect x="480.8" y="407.2" width="5.9" height="1.6" fill="#e6e6e6"/>
<rect x="634.2" y="406.4" width="3.2" height="2.4" fill="#e6e6e6"/>
<rect x="643.3" y="398.3" width="3.4" height="1.8" fill="#e6e6e6"/>
<rect x="499.7" y="407.7" width="3.3" height="1.5" fill="#e6e6e6"/>
<rect x="655.9" y="403.2" width="3.6" height="1.7" fill="#e6e6e6"/>
<rect x="621.6" y="407.3" width="2.4" height="2.8" fill="#e6e6e6"/>
<rect x="772.3" y="404.9" width="6" height="1.8" fill="#e6e6e6"/>
<rect x="780.7" y="405.5" width="5.4" height="1.9" fill="#e6e6e6"/>
<rect x="527.4" y="405" width="5.7" height="1" fill="#e6e6e6"/>
<rect x="558.3" y="403.3" width="3.1" height="1.3" fill="#e6e6e6"/>
<rect x="516.2" y="397.7" width="2.6" height="1.8" fill="#e6e6e6"/>
<rect x="623.2" y="404.4" width="3.5" height="1.3" fill="#e6e6e6"/>
<rect x="766.2" y="404.3" width="5.4" height="2.4" fill="#e6e6e6"/>
<rect x="561.9" y="403.9" width="3.6" height="2.3" fill="#e6e6e6"/>
<rect x="731.3" y="397.7" width="6" height="1.2" fill="#e6e6e6"/>
<rect x="457.5" y="398.3" width="4.8" height="2.7" fill="#e6e6e6"/>
<rect x="768" y="399.2" width="4.1" height="2.9" fill="#e6e6e6"/>
<rect x="755.1" y="406.4" width="3.2" height="1.5" fill="#e6e6e6"/>
<rect x="502.9" y="400.3" width="4" height="2.6" fill="#e6e6e6"/>
<rect x="677.4" y="399.4" width="2.9" height="1.9" fill="#e6e6e6"/>
<rect x="756.1" y="402.6" width="5.9" height="2.4" fill="#e6e6e6"/>
<rect x="751.8" y="402.9" width="3.9" height="1.9" fill="#e6e6e6"/>
<rect x="725.9" y="400.5" width="3" height="2.7" fill="#e6e6e6"/>
<rect x="616" y="404.4" width="2.9" height="1.1" fill="#e6e6e6"/>
<rect x="528.8" y="402.1" width="2.2" height="1.5" fill="#e6e6e6"/>
<rect x="774" y="402.2" width="2" height="2.6" fill="#e6e6e6"/>
<rect x="555" y="399.4" width="5.2" height="2.3" fill="#e6e6e6"/>
<rect x="562.7" y="405.2" width="6.4" height="1.7" fill="#e6e6e6"/>
<rect x="621.8" y="397.6" width="5" height="1.6" fill="#e6e6e6"/>
<rect x="674.8" y="405.7" width="3.7" height="2.3" fill="#e6e6e6"/>
<rect x="773.9" y="399.3" width="6" height="2" fill="#e6e6e6"/>
<rect x="774.2" y="398.3" width="3.9" height="1.3" fill="#e6e6e6"/>
<rect x="540.4" y="407.1" width="4.7" height="1.7" fill="#e6e6e6"/>
<rect x="780.8" y="398.1" width="2.1" height="2.5" fill="#e6e6e6"/>
<rect x="642.5" y="406.5" width="4.5" height="2.9" fill="#e6e6e6"/>
<rect x="565.3" y="400" width="6.4" height="2.1" fill="#e6e6e6"/>
<rect x="462.3" y="397.6" width="2.1" height="2.5" fill="#e6e6e6"/>
<rect x="670.1" y="398.7" width="6" height="2.6" fill="#e6e6e6"/>
<rect x="667.5" y="403.7" width="4.2" height="2.4" fill="#e6e6e6"/>
<rect x="584.8" y="407.5" width="5" height="2.3" fill="#e6e6e6"/>
<rect x="768.1" y="408.1" width="4.7" height="1.2" fill="#e6e6e6"/>
<rect x="631.3" y="407.4" width="3" height="1.5" fill="#e6e6e6"/>
<circle cx="547.5" cy="401" r="1" fill="#666"/>
<circle cx="571" cy="405.2" r="0.9" fill="#666"/>
<circle cx="462.1" cy="400.6" r="0.7" fill="#707070"/>
<circle cx="607.2" cy="400" r="0.9" fill="#454545"/>
<circle cx="519.1" cy="404.6" r="0.9" fill="#5a5a5a"/>
<circle cx="744.4" cy="408" r="0.9" fill="#5a5a5a"/>
<circle cx="670.8" cy="404.3" r="0.9" fill="#454545"/>
<circle cx="742" cy="403.7" r="0.9" fill="#666"/>
<circle cx="679.1" cy="408.9" r="0.8" fill="#707070"/>
<circle cx="716.1" cy="404.6" r="0.9" fill="#454545"/>
<circle cx="609.4" cy="405.1" r="1.1" fill="#5a5a5a"/>
<circle cx="559.3" cy="404.2" r="1.1" fill="#454545"/>
<circle cx="564.9" cy="401.5" r="0.7" fill="#3a3a3a"/>
<circle cx="595.3" cy="403.6" r="1.1" fill="#666"/>
<circle cx="535.6" cy="407.6" r="1" fill="#454545"/>
<circle cx="619.7" cy="408.4" r="0.9" fill="#454545"/>
<circle cx="793" cy="402.8" r="1" fill="#666"/>
<circle cx="664.9" cy="402.5" r="0.7" fill="#505050"/>
<circle cx="479.8" cy="399" r="0.7" fill="#666"/>
<circle cx="572.7" cy="398.7" r="0.9" fill="#707070"/>
<circle cx="793.4" cy="408.2" r="0.9" fill="#707070"/>
<circle cx="780.7" cy="398.6" r="0.8" fill="#5a5a5a"/>
<circle cx="703.7" cy="408.5" r="0.7" fill="#505050"/>
<circle cx="640.6" cy="398.5" r="0.9" fill="#707070"/>
<circle cx="693.9" cy="398.6" r="0.7" fill="#707070"/>
<circle cx="611" cy="409.2" r="1.1" fill="#505050"/>
<circle cx="463.3" cy="407.3" r="0.8" fill="#5a5a5a"/>
<circle cx="550.8" cy="404.2" r="1" fill="#3a3a3a"/>
<circle cx="593.9" cy="406.6" r="0.7" fill="#707070"/>
<circle cx="613.8" cy="403.3" r="0.9" fill="#454545"/>
<circle cx="518.8" cy="406.1" r="0.8" fill="#3a3a3a"/>
<circle cx="505.4" cy="406.3" r="0.9" fill="#666"/>
<circle cx="586.8" cy="404.7" r="0.8" fill="#5a5a5a"/>
<circle cx="550.9" cy="406" r="1.1" fill="#3a3a3a"/>
<circle cx="570.1" cy="407.5" r="0.9" fill="#707070"/>
<circle cx="493.6" cy="408.5" r="0.8" fill="#666"/>
<circle cx="768.5" cy="399.1" r="0.9" fill="#3a3a3a"/>
<circle cx="691.6" cy="399" r="0.8" fill="#505050"/>
<circle cx="669.3" cy="402.6" r="1.1" fill="#707070"/>
<circle cx="773" cy="404" r="0.7" fill="#707070"/>
<circle cx="643" cy="403.1" r="0.7" fill="#454545"/>
<circle cx="494.7" cy="402.5" r="1" fill="#707070"/>
<circle cx="784.4" cy="400.7" r="0.8" fill="#707070"/>
<circle cx="732" cy="408.7" r="0.7" fill="#3a3a3a"/>
<circle cx="469.5" cy="401.1" r="0.8" fill="#505050"/>
<circle cx="595.6" cy="405.9" r="0.9" fill="#666"/>
<circle cx="551.8" cy="406.6" r="0.8" fill="#666"/>
<circle cx="511.1" cy="400.1" r="1.1" fill="#707070"/>
<circle cx="463.8" cy="399.5" r="1" fill="#707070"/>
<circle cx="462" cy="407.4" r="0.8" fill="#5a5a5a"/>
<circle cx="725.9" cy="409.1" r="0.9" fill="#707070"/>
<circle cx="484.9" cy="403.3" r="1.1" fill="#707070"/>
<circle cx="531.7" cy="407.3" r="0.9" fill="#707070"/>
<circle cx="482.8" cy="400.2" r="0.8" fill="#666"/>
<circle cx="721.2" cy="405.7" r="0.7" fill="#3a3a3a"/>
<circle cx="676.9" cy="409" r="1" fill="#666"/>
<circle cx="691.7" cy="402.2" r="1" fill="#505050"/>
<circle cx="791.4" cy="400.1" r="0.8" fill="#5a5a5a"/>
<circle cx="666.9" cy="399.3" r="0.7" fill="#707070"/>
<circle cx="542.5" cy="408.5" r="1.1" fill="#454545"/>
<circle cx="500.5" cy="399.6" r="1" fill="#5a5a5a"/>
<circle cx="749.3" cy="402.7" r="1" fill="#454545"/>
<circle cx="666.3" cy="405.3" r="0.8" fill="#505050"/>
<circle cx="589.8" cy="404.8" r="0.8" fill="#454545"/>
<circle cx="534.4" cy="400.3" r="0.9" fill="#3a3a3a"/>
<circle cx="706.7" cy="406.5" r="0.9" fill="#707070"/>
<circle cx="615.1" cy="399.1" r="0.8" fill="#3a3a3a"/>
<circle cx="736.7" cy="398.9" r="0.7" fill="#505050"/>
<circle cx="653.2" cy="398.5" r="0.9" fill="#5a5a5a"/>
<circle cx="599.3" cy="403.2" r="0.9" fill="#666"/>
<circle cx="665.2" cy="402.4" r="1.1" fill="#666"/>
<circle cx="593.7" cy="408.9" r="0.7" fill="#5a5a5a"/>
<circle cx="608.1" cy="403.8" r="1.1" fill="#5a5a5a"/>
<circle cx="595" cy="402.9" r="1" fill="#5a5a5a"/>
<circle cx="699.3" cy="405.8" r="0.8" fill="#5a5a5a"/>
<circle cx="764.7" cy="407.4" r="1" fill="#454545"/>
<circle cx="502.2" cy="404.1" r="1" fill="#707070"/>
<circle cx="477.8" cy="403.8" r="0.7" fill="#666"/>
<circle cx="747.3" cy="408.4" r="0.9" fill="#505050"/>
<circle cx="646.7" cy="406.7" r="1" fill="#505050"/>
<circle cx="627.6" cy="399.4" r="0.7" fill="#707070"/>
<circle cx="516.6" cy="402.5" r="0.9" fill="#505050"/>
<circle cx="793.8" cy="403.7" r="0.7" fill="#707070"/>
<circle cx="778" cy="400.3" r="1" fill="#505050"/>
<circle cx="583.5" cy="408.3" r="0.9" fill="#707070"/>
<circle cx="554.1" cy="406.3" r="0.7" fill="#505050"/>
<circle cx="714.7" cy="403" r="0.8" fill="#3a3a3a"/>
<circle cx="749.4" cy="403.6" r="0.9" fill="#454545"/>
<circle cx="611.2" cy="400.2" r="1" fill="#454545"/>
<circle cx="643" cy="404.1" r="1" fill="#5a5a5a"/>
<circle cx="460.6" cy="403" r="0.7" fill="#707070"/>
<circle cx="655.9" cy="407.6" r="1" fill="#707070"/>
<circle cx="673.4" cy="400.7" r="0.9" fill="#505050"/>
<circle cx="510.5" cy="405.9" r="1.1" fill="#505050"/>
<circle cx="525.7" cy="406.7" r="0.9" fill="#5a5a5a"/>
<circle cx="474.2" cy="401.2" r="0.9" fill="#5a5a5a"/>
<circle cx="638.4" cy="399.4" r="1" fill="#3a3a3a"/>
<circle cx="699.6" cy="402.2" r="1" fill="#666"/>
<circle cx="454.9" cy="401.1" r="0.8" fill="#454545"/>
<circle cx="478.9" cy="405.2" r="1.1" fill="#454545"/>
<circle cx="642.2" cy="407.9" r="0.8" fill="#3a3a3a"/>
<circle cx="690.4" cy="405.7" r="0.7" fill="#454545"/>
<circle cx="616.9" cy="400.1" r="1.1" fill="#666"/>
<circle cx="578.1" cy="399.9" r="0.8" fill="#666"/>
<circle cx="746.6" cy="398.8" r="0.8" fill="#707070"/>
<circle cx="770.2" cy="400" r="1" fill="#3a3a3a"/>
<circle cx="700.1" cy="404.3" r="0.9" fill="#3a3a3a"/>
<circle cx="783" cy="409.1" r="0.8" fill="#666"/>
<circle cx="544" cy="407" r="0.9" fill="#3a3a3a"/>
<circle cx="619.6" cy="404.1" r="0.8" fill="#454545"/>
<circle cx="723.5" cy="404.7" r="1" fill="#666"/>
<circle cx="538.2" cy="401.6" r="1" fill="#5a5a5a"/>
<circle cx="513.7" cy="402.8" r="0.8" fill="#454545"/>
<circle cx="548.8" cy="398.8" r="0.9" fill="#5a5a5a"/>
<circle cx="648.7" cy="407.9" r="0.7" fill="#505050"/>
<circle cx="564.1" cy="404.8" r="0.9" fill="#666"/>
<circle cx="591.2" cy="406.8" r="1" fill="#5a5a5a"/>
<circle cx="709.1" cy="402.2" r="1" fill="#707070"/>
<circle cx="476.7" cy="400.7" r="1" fill="#505050"/>
<circle cx="456.2" cy="404.7" r="0.9" fill="#454545"/>
<circle cx="456.5" cy="408.6" r="0.9" fill="#3a3a3a"/>
<circle cx="789.6" cy="407.8" r="0.9" fill="#505050"/>
<circle cx="674.6" cy="399.5" r="0.8" fill="#505050"/>
<circle cx="654.2" cy="404.5" r="1" fill="#454545"/>
<circle cx="612.4" cy="405.8" r="0.8" fill="#454545"/>
<circle cx="656.9" cy="406.6" r="1" fill="#666"/>
<circle cx="574" cy="407.6" r="1" fill="#505050"/>
<circle cx="793.2" cy="399.7" r="0.9" fill="#5a5a5a"/>
<circle cx="771.8" cy="409.3" r="0.7" fill="#505050"/>
<circle cx="631.3" cy="400.5" r="0.9" fill="#3a3a3a"/>
<circle cx="725.8" cy="399.6" r="1.1" fill="#666"/>
<circle cx="624.1" cy="404.1" r="1.1" fill="#5a5a5a"/>
<circle cx="553.2" cy="401.4" r="0.7" fill="#707070"/>
<circle cx="772.1" cy="400.8" r="1.1" fill="#707070"/>
<circle cx="480.2" cy="400.7" r="1" fill="#505050"/>
<circle cx="700.3" cy="405.4" r="0.9" fill="#3a3a3a"/>
<circle cx="463.5" cy="401.2" r="1.1" fill="#666"/>
<circle cx="468.1" cy="408.1" r="0.8" fill="#666"/>
<circle cx="539.3" cy="402.1" r="0.8" fill="#454545"/>
<circle cx="684.5" cy="408.3" r="0.7" fill="#505050"/>
<circle cx="624.4" cy="399.4" r="0.8" fill="#666"/>
<circle cx="588.5" cy="405.8" r="0.9" fill="#5a5a5a"/>
<circle cx="510.4" cy="399.3" r="0.8" fill="#505050"/>
<circle cx="723.5" cy="407.4" r="0.9" fill="#5a5a5a"/>
<circle cx="468.8" cy="402.8" r="1.1" fill="#3a3a3a"/>
<circle cx="491.2" cy="403" r="0.9" fill="#454545"/>
<circle cx="576.1" cy="408.7" r="1" fill="#707070"/>
<circle cx="625.2" cy="405.9" r="1" fill="#505050"/>
<circle cx="668.8" cy="408.3" r="0.7" fill="#5a5a5a"/>
<circle cx="750.3" cy="400.6" r="1" fill="#454545"/>
<circle cx="652.1" cy="403.4" r="0.7" fill="#505050"/>
<circle cx="637.7" cy="402" r="0.7" fill="#3a3a3a"/>
<circle cx="769.3" cy="408.2" r="1.1" fill="#666"/>
<circle cx="690.4" cy="404.1" r="0.7" fill="#707070"/>
<circle cx="616.4" cy="401.8" r="0.8" fill="#454545"/>
<circle cx="717.6" cy="401.7" r="0.8" fill="#5a5a5a"/>
<circle cx="662" cy="399.7" r="0.7" fill="#454545"/>
<circle cx="591.7" cy="400.1" r="1.1" fill="#454545"/>
<circle cx="465.2" cy="403.8" r="0.9" fill="#505050"/>
<circle cx="565.5" cy="401.8" r="1" fill="#707070"/>
<circle cx="787.9" cy="401.1" r="1" fill="#505050"/>
<circle cx="737.2" cy="398.6" r="0.7" fill="#3a3a3a"/>
<circle cx="475.5" cy="400.6" r="0.8" fill="#454545"/>
<circle cx="510.2" cy="405" r="1.1" fill="#505050"/>
<circle cx="529.8" cy="401.4" r="0.8" fill="#454545"/>
<circle cx="652" cy="406.6" r="1" fill="#5a5a5a"/>
<circle cx="556.5" cy="398.8" r="0.9" fill="#666"/>
<circle cx="761.6" cy="402.1" r="0.9" fill="#5a5a5a"/>
<circle cx="496.4" cy="402.4" r="1.1" fill="#666"/>
<circle cx="764.4" cy="400.4" r="0.8" fill="#505050"/>
<circle cx="683.8" cy="403.2" r="0.8" fill="#707070"/>
<circle cx="652.1" cy="398.5" r="0.8" fill="#666"/>
<circle cx="522.9" cy="402" r="0.9" fill="#666"/>
<circle cx="666.6" cy="403.3" r="0.9" fill="#666"/>
<circle cx="785.4" cy="405" r="0.8" fill="#454545"/>
<circle cx="747.3" cy="406.6" r="0.9" fill="#5a5a5a"/>
<circle cx="658.9" cy="403.8" r="1" fill="#3a3a3a"/>
<circle cx="522.3" cy="408.1" r="1" fill="#5a5a5a"/>
<circle cx="652.5" cy="401.4" r="1" fill="#5a5a5a"/>
<circle cx="709.6" cy="401.7" r="1" fill="#666"/>
<circle cx="688.6" cy="399" r="0.8" fill="#454545"/>
<circle cx="731.7" cy="399.1" r="1" fill="#5a5a5a"/>
<circle cx="614.8" cy="407.8" r="0.7" fill="#707070"/>
<circle cx="731.3" cy="404.8" r="0.8" fill="#666"/>
<circle cx="772.4" cy="400.5" r="0.7" fill="#5a5a5a"/>
<circle cx="613.3" cy="408.7" r="0.8" fill="#666"/>
<circle cx="652.1" cy="400.4" r="0.7" fill="#505050"/>
<circle cx="666.5" cy="402.4" r="1.1" fill="#666"/>
<circle cx="488.3" cy="407.4" r="1" fill="#505050"/>
<circle cx="454.5" cy="399.9" r="0.8" fill="#505050"/>
<circle cx="569.5" cy="404.1" r="0.7" fill="#5a5a5a"/>
<circle cx="745.2" cy="407.2" r="0.8" fill="#505050"/>
<circle cx="530.9" cy="402.8" r="0.9" fill="#707070"/>
<circle cx="773.6" cy="399.4" r="1" fill="#505050"/>
<circle cx="756.8" cy="407.6" r="0.8" fill="#3a3a3a"/>
<circle cx="543.4" cy="404.3" r="1" fill="#666"/>
<circle cx="523.2" cy="399.2" r="1" fill="#3a3a3a"/>
<circle cx="574.5" cy="400.1" r="0.7" fill="#666"/>
<rect x="569.8" y="396.8" width="3" height="1.2" fill="#fafafa"/>
<rect x="538.5" y="396.5" width="3.5" height="1.2" fill="#fafafa"/>
<rect x="613.9" y="397" width="2.1" height="1.2" fill="#fafafa"/>
<rect x="617" y="397.7" width="2.3" height="1.2" fill="#fafafa"/>
<rect x="506.3" y="396.9" width="2.1" height="1.2" fill="#fafafa"/>
<rect x="532.9" y="396.5" width="4.8" height="1.2" fill="#fafafa"/>
<rect x="680.3" y="396.9" width="3.6" height="1.2" fill="#fafafa"/>
<rect x="606.9" y="397.2" width="3.8" height="1.2" fill="#fafafa"/>
<rect x="555.8" y="396.7" width="5" height="1.2" fill="#fafafa"/>
<rect x="719.6" y="397.1" width="3.8" height="1.2" fill="#fafafa"/>
<rect x="560.4" y="396.4" width="4.3" height="1.2" fill="#fafafa"/>
<rect x="563.1" y="397.1" width="4.5" height="1.2" fill="#fafafa"/>
<rect x="665.7" y="397" width="3.4" height="1.2" fill="#fafafa"/>
<rect x="554.1" y="397.5" width="2.5" height="1.2" fill="#fafafa"/>
<rect x="707.9" y="397.6" width="3.8" height="1.2" fill="#fafafa"/>
<rect x="672" y="396.3" width="4.8" height="1.2" fill="#fafafa"/>
<rect x="608.1" y="397.9" width="3" height="1.2" fill="#fafafa"/>
<rect x="743.5" y="396.7" width="2.9" height="1.2" fill="#fafafa"/>
<rect x="554.4" y="397.6" width="3.4" height="1.2" fill="#fafafa"/>
<rect x="555.8" y="396" width="4.5" height="1.2" fill="#fafafa"/>
<rect x="454.2" y="396.7" width="2.4" height="1.2" fill="#fafafa"/>
<rect x="696.3" y="396.4" width="4.3" height="1.2" fill="#fafafa"/>
<rect x="740.4" y="397" width="3.6" height="1.2" fill="#fafafa"/>
<rect x="639.5" y="397.1" width="3" height="1.2" fill="#fafafa"/>
<rect x="500" y="396.2" width="3.5" height="1.2" fill="#fafafa"/>
<rect x="489.5" y="397.3" width="3.8" height="1.2" fill="#fafafa"/>
<rect x="739.7" y="396.9" width="2.9" height="1.2" fill="#fafafa"/>
<rect x="564.2" y="397" width="3.9" height="1.2" fill="#fafafa"/>
<rect x="750.6" y="396.4" width="4.4" height="1.2" fill="#fafafa"/>
<rect x="758.5" y="397" width="3.4" height="1.2" fill="#fafafa"/>
<rect x="773.2" y="397.2" width="2.1" height="1.2" fill="#fafafa"/>
<rect x="746.1" y="396.8" width="2.1" height="1.2" fill="#fafafa"/>
<rect x="709.9" y="396.7" width="4.7" height="1.2" fill="#fafafa"/>
<rect x="588.4" y="396.6" width="2.2" height="1.2" fill="#fafafa"/>
<rect x="717.6" y="396.4" width="2" height="1.2" fill="#fafafa"/>
<rect x="584.5" y="397.4" width="5" height="1.2" fill="#fafafa"/>
<rect x="793.7" y="397.5" width="4.4" height="1.2" fill="#fafafa"/>
<rect x="641.3" y="397" width="2.6" height="1.2" fill="#fafafa"/>
<rect x="780.3" y="397.6" width="1.5" height="1.2" fill="#fafafa"/>
<rect x="504.8" y="397.9" width="4.7" height="1.2" fill="#fafafa"/>
<rect x="796.5" y="396.6" width="3.2" height="1.2" fill="#fafafa"/>
<rect x="732.4" y="396.5" width="3.4" height="1.2" fill="#fafafa"/>
<rect x="493.8" y="396.3" width="2.8" height="1.2" fill="#fafafa"/>
<rect x="706" y="396" width="3.2" height="1.2" fill="#fafafa"/>
<rect x="480.2" y="396.5" width="4.6" height="1.2" fill="#fafafa"/>
<rect x="795.4" y="396.2" width="2.3" height="1.2" fill="#fafafa"/>
<rect x="518.1" y="396.5" width="2.6" height="1.2" fill="#fafafa"/>
<rect x="481.3" y="397.2" width="2.9" height="1.2" fill="#fafafa"/>
<rect x="674.4" y="397.7" width="4.9" height="1.2" fill="#fafafa"/>
<rect x="759.6" y="396.1" width="4.6" height="1.2" fill="#fafafa"/>
<rect x="486.4" y="397.2" width="4.1" height="1.2" fill="#fafafa"/>
<rect x="582.5" y="397.6" width="3.6" height="1.2" fill="#fafafa"/>
<rect x="774.9" y="396.6" width="3.3" height="1.2" fill="#fafafa"/>
<rect x="626.6" y="396.5" width="4" height="1.2" fill="#fafafa"/>
<rect x="777.3" y="397.5" width="3.1" height="1.2" fill="#fafafa"/>
<rect x="587.6" y="396.6" width="4.9" height="1.2" fill="#fafafa"/>
<rect x="747.7" y="396.3" width="1.6" height="1.2" fill="#fafafa"/>
<rect x="599" y="397.8" width="2.3" height="1.2" fill="#fafafa"/>
<rect x="705.2" y="397.7" width="2.7" height="1.2" fill="#fafafa"/>
<rect x="669.1" y="397.3" width="1.8" height="1.2" fill="#fafafa"/>
<rect x="692.2" y="396.5" width="1.6" height="1.2" fill="#fafafa"/>
<rect x="539.4" y="397.9" width="1.8" height="1.2" fill="#fafafa"/>
<rect x="526.6" y="397.2" width="2.1" height="1.2" fill="#fafafa"/>
<rect x="672.2" y="397.5" width="3.3" height="1.2" fill="#fafafa"/>
<rect x="687" y="397.4" width="3.9" height="1.2" fill="#fafafa"/>
<rect x="789.3" y="396.5" width="1.7" height="1.2" fill="#fafafa"/>
<rect x="552.5" y="397.9" width="3" height="1.2" fill="#fafafa"/>
<rect x="624" y="397.2" width="3.8" height="1.2" fill="#fafafa"/>
<rect x="453.7" y="397.1" width="1.6" height="1.2" fill="#fafafa"/>
<rect x="452" y="410.3" width="345.5" height="20.2" fill="url(#ch)"/>
<circle cx="454.1" cy="413.3" r="1.4" fill="#1a1a1a"/>
<circle cx="456.6" cy="427" r="1.3" fill="#1a1a1a"/>
<circle cx="467.2" cy="415.2" r="1.4" fill="#1a1a1a"/>
<circle cx="484.4" cy="418" r="1.5" fill="#1a1a1a"/>
<circle cx="478.1" cy="427.7" r="1.4" fill="#1a1a1a"/>
<circle cx="488.3" cy="419.9" r="1.2" fill="#1a1a1a"/>
<circle cx="493.1" cy="427.2" r="1.6" fill="#1a1a1a"/>
<circle cx="498.6" cy="414.9" r="1.4" fill="#1a1a1a"/>
<circle cx="507.4" cy="427.4" r="1.5" fill="#1a1a1a"/>
<circle cx="523.8" cy="412.7" r="1.3" fill="#1a1a1a"/>
<circle cx="525.4" cy="426.7" r="1.6" fill="#1a1a1a"/>
<circle cx="536.2" cy="412.9" r="1.3" fill="#1a1a1a"/>
<circle cx="550.8" cy="426.7" r="1.2" fill="#1a1a1a"/>
<circle cx="553.1" cy="418.8" r="1.5" fill="#1a1a1a"/>
<circle cx="560" cy="422.7" r="1.4" fill="#1a1a1a"/>
<circle cx="566.9" cy="418" r="1.4" fill="#1a1a1a"/>
<circle cx="573.3" cy="423.8" r="1.4" fill="#1a1a1a"/>
<circle cx="579.6" cy="420.3" r="1.3" fill="#1a1a1a"/>
<circle cx="584.9" cy="426.2" r="1.2" fill="#1a1a1a"/>
<circle cx="589.5" cy="415.6" r="1.6" fill="#1a1a1a"/>
<circle cx="594.1" cy="424.1" r="1.3" fill="#1a1a1a"/>
<circle cx="602" cy="413.5" r="1.2" fill="#1a1a1a"/>
<circle cx="615.7" cy="418.6" r="1.2" fill="#1a1a1a"/>
<circle cx="610.7" cy="424.9" r="1.4" fill="#1a1a1a"/>
<circle cx="629" cy="419" r="1.5" fill="#1a1a1a"/>
<circle cx="620.3" cy="421.4" r="1.2" fill="#1a1a1a"/>
<circle cx="643.7" cy="419.1" r="1.6" fill="#1a1a1a"/>
<circle cx="647.6" cy="421.9" r="1.4" fill="#1a1a1a"/>
<circle cx="659.2" cy="418" r="1.5" fill="#1a1a1a"/>
<circle cx="657.9" cy="421.4" r="1.6" fill="#1a1a1a"/>
<circle cx="668.7" cy="417.8" r="1.6" fill="#1a1a1a"/>
<circle cx="666.9" cy="422.3" r="1.3" fill="#1a1a1a"/>
<circle cx="676.1" cy="424.2" r="1.4" fill="#1a1a1a"/>
<circle cx="697.7" cy="419.4" r="1.6" fill="#1a1a1a"/>
<circle cx="698.1" cy="424" r="1.5" fill="#1a1a1a"/>
<circle cx="707.8" cy="419.5" r="1.2" fill="#1a1a1a"/>
<circle cx="709.5" cy="428.4" r="1.4" fill="#1a1a1a"/>
<circle cx="719.6" cy="412.4" r="1.2" fill="#1a1a1a"/>
<circle cx="719.2" cy="426.9" r="1.6" fill="#1a1a1a"/>
<circle cx="735.4" cy="413.8" r="1.5" fill="#1a1a1a"/>
<circle cx="734.7" cy="424.5" r="1.3" fill="#1a1a1a"/>
<circle cx="743.9" cy="420.1" r="1.4" fill="#1a1a1a"/>
<circle cx="741.2" cy="427.7" r="1.4" fill="#1a1a1a"/>
<circle cx="752.8" cy="412.5" r="1.4" fill="#1a1a1a"/>
<circle cx="759.5" cy="427.8" r="1.4" fill="#1a1a1a"/>
<circle cx="771.8" cy="424.6" r="1.6" fill="#1a1a1a"/>
<circle cx="780.7" cy="422.2" r="1.3" fill="#1a1a1a"/>
<circle cx="788.6" cy="428.2" r="1.2" fill="#1a1a1a"/>
<line x1="452" y1="430.5" x2="797.5" y2="430.5" stroke="#a8a8a8" stroke-width="1"/>
<line x1="452" y1="410.3" x2="797.5" y2="410.3" stroke="#a0a0a0" stroke-width="0.8"/>
<path d="M451.6,366 Q451.9,381.2 451.9,388.8 Q451.9,396.4 452.4,404 Q453,411.6 452.7,419.2 Q452.3,426.8 452,434.4 L451.7,442" fill="none" stroke="#484848" stroke-width="1.15" stroke-linejoin="round"/>
<path d="M797.7,364.5 Q797.5,380 798.1,387.7 Q798.7,395.4 797.8,403.1 Q796.9,410.9 796.7,418.6 Q796.6,426.3 796.9,434.1 L797.3,441.8" fill="none" stroke="#484848" stroke-width="1.15" stroke-linejoin="round"/>
<rect x="452" y="375" width="170.5" height="20.3" fill="url(#th)" stroke="#b4b4b4" stroke-width="0.9"/>
<rect x="632" y="375" width="165.5" height="20.3" fill="url(#th)" stroke="#b4b4b4" stroke-width="0.9"/>
<rect x="623.5" y="378" width="7" height="20" fill="#fff"/>
<path d="M601,397.5 Q627,412.5 654,397.5" fill="none" stroke="#151515" stroke-width="4" stroke-linecap="round"/>
<path d="M625.5,399.5 L627.5,396 L629.5,399.5 Z" fill="#151515"/>
<polygon points="586.7,375.2 631.7,335.8 640.2,353.3" fill="#fdcb00" stroke="#c9a000" stroke-width="0.9" stroke-linejoin="round"/>
<path d="M585.5,345.8 Q615,350 625.8,378.3" fill="none" stroke="#151515" stroke-width="4" stroke-linecap="round"/>
<rect x="-125" y="-8.2" width="125" height="16.4" rx="3.5" fill="#151515" transform="translate(782.8,359.7) rotate(19.2)"/>
<rect x="-13.3" y="-28" width="26.6" height="56" rx="6" fill="#151515" transform="translate(661.5,314.5) rotate(21.5)"/>
<line x1="661" y1="359.3" x2="729.5" y2="359.3" stroke="#d8222e" stroke-width="4.2" stroke-linecap="round"/><polygon points="649,359.3 665,366.3 661,359.3 665,352.3" fill="#d8222e"/>
<circle cx="475.4" cy="339.4" r="21.4" fill="#fff" stroke="#151515" stroke-width="3.4"/><path d="M940 287V0H672V287H31V498L626 1409H940V496H1128V287ZM672 957Q672 1011 675.5 1074.0Q679 1137 681 1155Q655 1099 587 993L260 496H672Z" fill="#151515" stroke="#151515" stroke-width="21.2" transform="translate(465.16,352.00) scale(0.01413,-0.01831)"/>
</g></svg>
<svg id="wm" width="800" height="600" viewBox="0 0 800 600">
<g fill="none" stroke="#707070" stroke-linejoin="round"><circle cx="399.8" cy="300" r="73.2" stroke-width="6"/><path d="M382,228.8 L382,248 L371,253.5 L371,264.5 Q400,249.5 429,264.5 L429,253.5 L418,248 L418,228.8" stroke-width="6.2"/><path d="M382,233.3 L382,248 L371,253.5 L371,264.5 Q400,249.5 429,264.5 L429,253.5 L418,248 L418,233.3" stroke-width="6.2" transform="translate(0,604.5) scale(1,-1)"/><path d="M395.6,288.1 L409.5,279.5 L404.4,269.3 C418.2,270.0 434.3,288.4 429.7,310.8 L422.0,302.8 L396.4,316.1 L382.5,324.5 L387.5,334.7 C373.8,333.9 357.7,315.5 362.3,293.1 L369.9,301.2 Z" stroke-width="6.2"/></g>
<g fill="none" stroke="#ffffff" stroke-linejoin="round"><circle cx="399.8" cy="300" r="73.2" stroke-width="4"/><path d="M382,228.8 L382,248 L371,253.5 L371,264.5 Q400,249.5 429,264.5 L429,253.5 L418,248 L418,228.8" stroke-width="4.2"/><path d="M382,233.3 L382,248 L371,253.5 L371,264.5 Q400,249.5 429,264.5 L429,253.5 L418,248 L418,233.3" stroke-width="4.2" transform="translate(0,604.5) scale(1,-1)"/><path d="M395.6,288.1 L409.5,279.5 L404.4,269.3 C418.2,270.0 434.3,288.4 429.7,310.8 L422.0,302.8 L396.4,316.1 L382.5,324.5 L387.5,334.7 C373.8,333.9 357.7,315.5 362.3,293.1 L369.9,301.2 Z" stroke-width="4.2"/></g>
</svg></body></html>
